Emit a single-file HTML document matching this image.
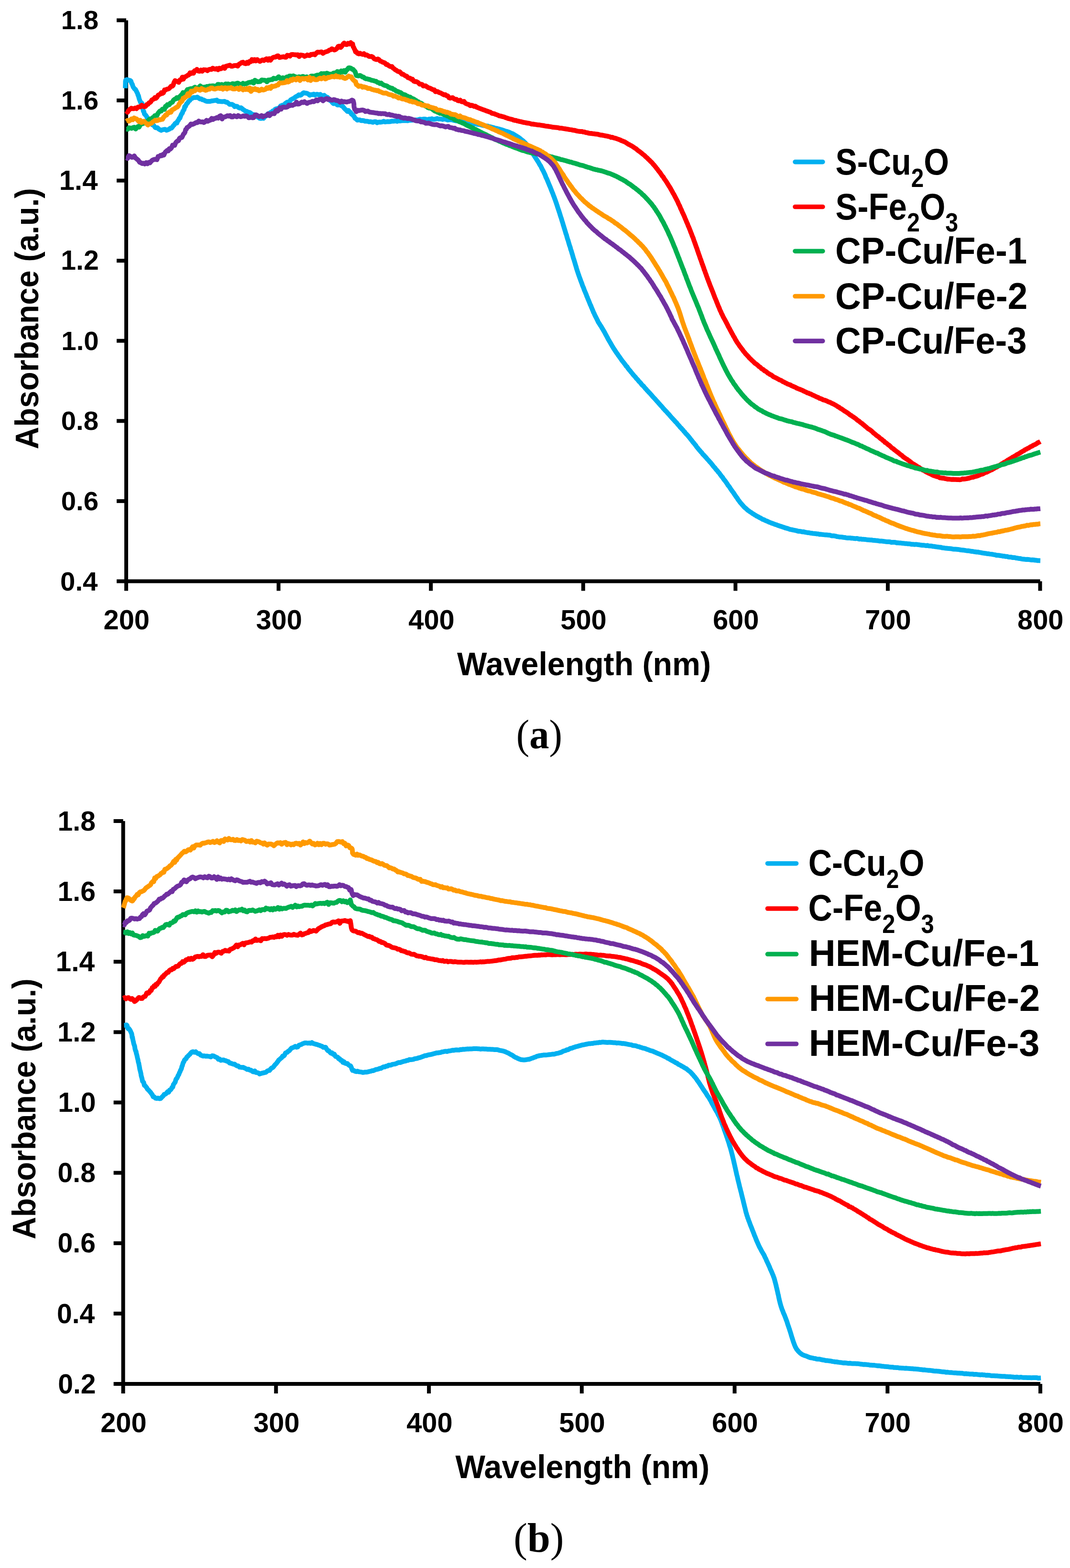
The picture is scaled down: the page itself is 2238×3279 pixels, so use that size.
<!DOCTYPE html>
<html><head><meta charset="utf-8"><title>Absorbance spectra</title>
<style>html,body{margin:0;padding:0;background:#fff;}svg{display:block;}</style></head>
<body>
<svg width="2238" height="3279" viewBox="0 0 2238 3279">
<rect width="100%" height="100%" fill="#fff"/>
<g fill="none" stroke="#000" stroke-width="8.0" stroke-linejoin="miter" stroke-linecap="butt">
<path d="M264.0 42.4 V1215.5 H2175.5" />
<path d="M244.0 42.4 H264.0" />
<path d="M244.0 210.0 H264.0" />
<path d="M244.0 377.6 H264.0" />
<path d="M244.0 545.2 H264.0" />
<path d="M244.0 712.7 H264.0" />
<path d="M244.0 880.3 H264.0" />
<path d="M244.0 1047.9 H264.0" />
<path d="M244.0 1215.5 H264.0" />
<path d="M264.0 1215.5 V1235.5" />
<path d="M582.6 1215.5 V1235.5" />
<path d="M901.2 1215.5 V1235.5" />
<path d="M1219.8 1215.5 V1235.5" />
<path d="M1538.3 1215.5 V1235.5" />
<path d="M1856.9 1215.5 V1235.5" />
<path d="M2175.5 1215.5 V1235.5" />
<path d="M257.6 1717.0 V2894.0 H2176.0" />
<path d="M237.6 1717.0 H257.6" />
<path d="M237.6 1864.1 H257.6" />
<path d="M237.6 2011.2 H257.6" />
<path d="M237.6 2158.4 H257.6" />
<path d="M237.6 2305.5 H257.6" />
<path d="M237.6 2452.6 H257.6" />
<path d="M237.6 2599.8 H257.6" />
<path d="M237.6 2746.9 H257.6" />
<path d="M237.6 2894.0 H257.6" />
<path d="M257.6 2894.0 V2914.0" />
<path d="M577.3 2894.0 V2914.0" />
<path d="M897.1 2894.0 V2914.0" />
<path d="M1216.8 2894.0 V2914.0" />
<path d="M1536.5 2894.0 V2914.0" />
<path d="M1856.3 2894.0 V2914.0" />
<path d="M2176.0 2894.0 V2914.0" />
</g>
<g fill="none" stroke-width="10.0" stroke-linejoin="round" stroke-linecap="butt">
<path d="M262.0 184.5L262.1 182.3L262.2 177.5L262.3 176.4L262.4 172.4L262.4 170.6L263.0 167.6L264.9 166.5L267.6 166.9L270.2 168.0L272.3 168.2L274.0 169.9L275.4 174.6L276.6 176.0L277.7 179.5L278.9 182.5L280.3 184.3L281.7 186.1L283.3 187.1L284.9 189.9L286.4 193.1L287.7 195.4L288.7 199.4L289.5 199.7L290.3 203.3L290.9 205.7L291.7 208.2L292.6 210.5L294.2 214.6L296.2 215.3L297.4 216.7L298.0 222.0L298.4 222.7L298.8 226.1L299.3 229.3L299.9 232.6L300.9 233.4L302.1 238.2L303.5 239.9L304.9 241.0L306.5 243.3L308.0 246.8L309.7 247.2L311.4 250.4L313.1 253.3L314.9 255.9L316.7 257.6L318.6 261.0L320.6 261.3L322.7 264.0L324.8 266.8L327.1 267.2L329.4 267.1L331.9 269.7L334.4 271.2L337.2 272.6L339.9 271.3L342.7 270.8L345.5 270.5L348.3 272.5L351.1 271.3L353.8 270.3L356.3 268.0L358.6 268.0L360.7 265.5L362.6 262.9L364.5 261.1L366.3 258.3L368.2 256.8L370.0 257.2L371.7 252.9L373.3 251.2L374.9 247.4L376.4 247.1L377.7 243.0L379.0 240.2L380.2 237.7L381.4 236.5L382.6 232.5L383.8 230.9L385.1 229.0L386.4 223.1L387.8 223.0L389.1 219.7L390.5 217.0L391.9 215.9L393.5 213.6L395.2 211.0L397.1 209.9L399.3 206.4L401.7 205.9L404.4 204.1L407.1 204.0L409.9 203.9L412.7 203.0L415.5 205.0L418.2 206.8L420.8 206.7L423.2 208.6L425.7 208.9L428.3 210.2L431.0 211.6L433.8 212.1L436.6 211.9L439.4 212.0L442.2 211.2L445.0 210.8L447.8 210.3L450.6 210.1L453.4 209.3L456.2 212.1L459.0 211.8L461.8 212.3L464.6 212.4L467.3 212.2L469.9 212.1L472.5 213.7L475.1 213.8L477.7 216.0L480.3 218.2L482.9 218.2L485.5 218.3L488.2 219.8L490.8 223.0L493.4 222.1L496.1 222.5L498.7 224.8L501.3 226.0L503.9 225.2L506.4 227.2L508.9 229.3L511.4 230.8L513.9 233.1L516.4 232.9L518.9 234.8L521.4 234.9L523.9 236.4L526.4 238.2L528.9 240.2L531.4 239.7L533.9 240.5L536.4 240.4L538.8 244.9L541.0 245.6L543.4 247.6L546.2 247.7L548.8 246.1L551.3 247.6L553.7 244.0L556.1 242.8L558.5 239.8L560.8 237.7L563.2 238.5L565.6 235.4L567.9 236.6L570.3 232.1L572.7 234.2L575.1 228.7L577.5 227.6L579.8 227.0L582.2 226.6L584.6 225.0L587.0 221.5L589.3 220.7L591.7 219.7L594.1 219.5L596.5 216.5L598.9 214.8L601.3 213.4L603.6 213.8L605.8 212.6L608.0 208.8L610.2 207.6L612.4 206.4L614.7 205.3L617.2 203.3L619.8 201.7L622.4 200.6L625.1 198.2L627.7 199.3L630.2 198.2L632.6 195.7L635.0 194.0L637.7 194.5L640.3 194.8L642.7 195.4L645.0 196.6L647.7 199.1L650.5 197.8L653.2 198.1L656.0 196.7L658.7 198.9L661.6 197.2L664.3 197.3L667.1 198.6L669.9 197.3L672.6 200.1L675.4 200.1L678.1 199.3L680.7 201.8L683.0 203.3L685.0 203.5L686.9 206.0L688.8 207.4L690.8 210.6L692.9 211.2L695.1 214.5L697.4 216.7L699.9 216.2L702.5 216.5L705.3 219.4L708.0 219.6L710.8 218.6L713.4 220.8L715.8 221.8L717.9 223.6L719.9 226.2L722.0 228.5L724.2 230.2L726.6 233.1L729.0 231.1L731.3 234.1L733.4 235.0L735.2 238.9L737.0 239.1L738.7 241.5L740.6 243.3L742.5 247.2L744.9 248.7L747.2 251.2L749.7 250.8L752.5 250.7L755.2 252.3L758.0 252.1L760.8 252.2L763.5 253.6L766.3 253.5L769.1 253.8L771.9 254.7L774.6 254.4L777.4 255.1L780.2 255.8L783.0 254.4L785.8 254.4L788.6 256.7L791.4 255.4L794.2 255.3L797.0 255.4L799.8 254.8L802.6 253.6L805.4 255.0L808.2 254.6L811.0 254.2L813.8 254.4L816.6 254.2L819.4 253.2L822.2 253.5L825.0 253.3L827.8 252.9L830.6 253.8L833.4 252.3L836.2 253.0L839.0 252.6L841.8 252.3L844.6 252.1L847.4 252.3L850.2 252.3L853.0 252.4L855.8 251.1L858.6 251.6L861.4 251.2L864.2 251.3L867.0 251.0L869.8 250.8L872.6 250.8L875.4 250.2L878.2 249.2L881.0 249.8L883.8 249.4L886.6 249.0L889.4 249.1L892.2 249.6L895.0 249.9L897.8 248.9L900.6 249.0L903.4 248.2L906.2 249.6L909.0 249.4L911.8 248.6L914.6 247.8L917.4 249.0L920.2 248.6L923.0 249.0L925.8 249.8L928.6 248.8L931.4 249.3L934.2 250.0L936.9 251.1L939.7 250.2L942.5 250.4L945.3 250.5L948.1 251.5L950.9 252.2L953.7 252.7L956.4 252.6L959.2 252.7L962.0 253.5L964.8 253.4L967.5 254.0L970.3 254.3L973.1 255.3L975.8 255.3L978.6 256.1L981.3 256.5L984.1 257.0L986.9 257.6L989.6 258.0L992.4 258.9L995.1 258.8L997.9 260.0L1000.6 260.2L1003.4 260.5L1006.1 261.2L1008.9 262.0L1011.6 262.5L1014.4 262.8L1017.1 263.5L1019.9 263.6L1022.6 264.5L1025.3 265.2L1028.1 265.9L1030.8 266.4L1033.5 267.3L1036.2 268.2L1038.9 268.5L1041.6 269.4L1044.3 270.0L1047.0 271.0L1049.7 271.5L1052.4 272.4L1055.1 273.5L1057.8 274.5L1060.4 274.9L1063.1 275.9L1065.7 276.8L1068.3 278.2L1070.8 279.1L1073.3 280.2L1075.8 281.7L1078.2 283.3L1080.6 284.8L1083.0 286.3L1085.3 287.8L1087.5 289.3L1089.8 291.4L1091.9 292.8L1094.1 294.6L1096.1 296.6L1098.1 298.3L1100.1 300.6L1101.9 302.7L1103.7 304.7L1105.4 307.4L1107.0 309.8L1108.6 311.7L1110.1 314.3L1111.6 316.7L1113.1 319.1L1114.6 321.1L1116.0 323.7L1117.5 325.9L1119.0 328.3L1120.6 330.7L1122.1 333.0L1123.6 335.4L1125.1 337.6L1126.6 340.0L1128.0 342.6L1129.5 345.3L1130.9 347.0L1132.2 349.8L1133.5 352.6L1134.8 355.1L1136.0 357.1L1137.2 359.6L1138.4 362.3L1139.6 364.7L1140.7 367.3L1141.8 370.6L1142.9 372.6L1144.1 375.2L1145.2 377.9L1146.3 380.5L1147.3 383.0L1148.4 385.6L1149.5 388.2L1150.6 390.7L1151.7 393.5L1152.7 396.1L1153.8 398.8L1154.8 401.4L1155.8 403.7L1156.9 406.5L1157.8 409.3L1158.8 411.4L1159.8 414.5L1160.7 416.7L1161.7 419.4L1162.6 422.2L1163.5 424.6L1164.4 427.4L1165.3 430.0L1166.2 432.9L1167.1 435.7L1168.0 438.3L1168.8 440.5L1169.7 443.6L1170.6 446.0L1171.4 448.9L1172.3 451.7L1173.1 454.1L1174.0 456.6L1174.8 459.4L1175.6 462.2L1176.5 464.8L1177.3 467.4L1178.1 470.6L1178.9 472.7L1179.7 475.6L1180.6 478.3L1181.4 481.0L1182.2 483.7L1183.0 486.3L1183.8 489.2L1184.7 491.1L1185.5 494.3L1186.3 497.1L1187.1 500.0L1188.0 502.1L1188.8 505.0L1189.6 507.8L1190.4 510.5L1191.2 513.3L1192.1 515.6L1192.9 518.1L1193.7 521.7L1194.5 523.5L1195.4 526.3L1196.2 529.3L1197.0 531.7L1197.8 534.4L1198.6 537.3L1199.4 540.2L1200.3 542.6L1201.1 545.2L1201.9 547.9L1202.7 550.4L1203.5 553.5L1204.3 555.8L1205.1 558.5L1205.9 561.6L1206.8 564.2L1207.6 567.0L1208.5 569.3L1209.4 572.3L1210.3 574.6L1211.2 577.4L1212.1 579.9L1213.1 582.6L1214.0 585.0L1215.0 587.8L1216.0 590.4L1217.0 592.9L1218.0 595.9L1219.0 598.6L1220.1 600.9L1221.1 603.6L1222.1 606.5L1223.2 609.0L1224.2 611.4L1225.3 614.0L1226.3 616.3L1227.3 619.4L1228.4 621.6L1229.4 624.4L1230.5 626.9L1231.6 629.6L1232.6 631.9L1233.7 634.8L1234.8 637.5L1235.9 639.5L1236.9 642.4L1238.1 645.0L1239.2 647.8L1240.3 650.3L1241.4 653.3L1242.6 655.2L1243.8 658.3L1245.0 660.6L1246.2 663.0L1247.4 665.3L1248.7 667.9L1250.0 670.4L1251.3 673.4L1252.7 675.5L1254.2 677.9L1255.6 680.2L1257.1 682.2L1258.6 685.0L1260.1 687.4L1261.5 689.8L1262.9 692.2L1264.3 694.4L1265.6 697.0L1267.0 699.7L1268.3 702.0L1269.6 704.5L1270.9 706.8L1272.2 709.6L1273.6 711.8L1275.0 714.2L1276.4 716.5L1277.8 719.0L1279.2 721.4L1280.6 724.0L1282.1 726.3L1283.6 728.9L1285.1 731.0L1286.7 733.5L1288.2 735.8L1289.8 738.2L1291.4 740.2L1293.0 742.7L1294.6 744.9L1296.3 747.2L1297.9 749.6L1299.6 751.9L1301.3 754.5L1302.9 756.3L1304.6 758.4L1306.3 760.7L1308.0 762.8L1309.7 765.6L1311.5 766.9L1313.2 769.8L1314.9 772.1L1316.7 774.2L1318.5 776.2L1320.2 778.5L1322.0 780.5L1323.8 782.8L1325.6 785.0L1327.4 787.0L1329.2 788.8L1331.0 791.4L1332.9 793.2L1334.7 795.2L1336.6 797.8L1338.5 799.3L1340.3 801.5L1342.2 804.2L1344.1 805.9L1346.0 807.6L1347.9 810.0L1349.8 812.3L1351.6 814.0L1353.5 816.5L1355.4 818.2L1357.3 820.5L1359.2 822.2L1361.1 824.4L1362.9 826.5L1364.8 828.8L1366.7 830.9L1368.6 832.9L1370.4 834.8L1372.3 837.0L1374.2 839.1L1376.1 841.2L1377.9 843.4L1379.8 845.3L1381.7 847.7L1383.6 849.5L1385.4 851.5L1387.3 854.1L1389.2 855.9L1391.1 858.2L1392.9 859.9L1394.8 861.8L1396.7 864.2L1398.6 865.9L1400.5 868.2L1402.3 870.4L1404.2 872.6L1406.1 874.6L1408.0 876.7L1409.8 878.5L1411.7 880.8L1413.6 882.8L1415.5 884.5L1417.3 887.1L1419.2 889.1L1421.1 891.2L1423.0 893.7L1424.8 895.1L1426.7 897.6L1428.6 899.4L1430.4 901.9L1432.3 903.6L1434.1 906.4L1435.9 907.9L1437.8 910.1L1439.6 912.1L1441.4 914.2L1443.1 916.4L1444.9 918.9L1446.7 920.9L1448.4 923.2L1450.1 925.4L1451.9 927.2L1453.6 929.7L1455.4 931.7L1457.1 934.5L1458.9 936.5L1460.6 938.6L1462.4 940.8L1464.2 942.7L1466.0 945.1L1467.9 946.8L1469.7 949.5L1471.6 951.3L1473.4 953.2L1475.3 955.3L1477.2 957.3L1479.0 959.6L1480.9 961.6L1482.8 963.6L1484.6 965.9L1486.5 967.8L1488.3 969.9L1490.1 972.3L1491.9 974.7L1493.7 976.8L1495.5 978.6L1497.3 981.3L1499.1 983.1L1500.9 985.1L1502.6 987.6L1504.4 989.2L1506.1 991.9L1507.8 993.9L1509.5 996.5L1511.3 998.2L1512.9 1000.9L1514.6 1003.3L1516.3 1005.2L1518.0 1007.5L1519.6 1009.8L1521.2 1012.1L1522.8 1015.0L1524.5 1016.7L1526.1 1019.0L1527.6 1021.4L1529.2 1023.8L1530.8 1026.1L1532.4 1028.2L1534.0 1030.3L1535.6 1032.8L1537.2 1035.2L1538.8 1037.5L1540.3 1039.8L1541.9 1041.6L1543.5 1044.5L1545.2 1046.7L1546.8 1048.8L1548.5 1051.2L1550.3 1053.0L1552.1 1055.3L1554.0 1057.2L1555.9 1059.7L1557.9 1061.6L1560.0 1063.2L1562.1 1065.2L1564.3 1067.1L1566.6 1068.7L1568.8 1070.4L1571.1 1071.6L1573.4 1073.5L1575.8 1074.8L1578.2 1076.6L1580.6 1077.7L1583.0 1079.5L1585.4 1080.4L1587.9 1082.1L1590.4 1083.2L1592.9 1084.6L1595.4 1086.2L1598.0 1086.9L1600.5 1088.3L1603.1 1089.3L1605.6 1090.4L1608.2 1091.7L1610.8 1092.6L1613.4 1093.9L1616.0 1094.6L1618.6 1095.6L1621.3 1096.8L1623.9 1097.3L1626.5 1098.6L1629.2 1099.3L1631.8 1100.4L1634.5 1101.0L1637.2 1102.2L1639.8 1102.9L1642.5 1104.0L1645.2 1104.6L1647.9 1105.4L1650.6 1106.4L1653.3 1107.3L1656.0 1107.6L1658.7 1108.4L1661.5 1108.8L1664.2 1109.3L1666.9 1110.1L1669.7 1110.9L1672.5 1111.0L1675.2 1111.4L1678.0 1112.2L1680.8 1112.1L1683.5 1112.9L1686.3 1113.4L1689.1 1113.9L1691.9 1114.1L1694.6 1114.7L1697.4 1114.9L1700.2 1115.6L1703.0 1115.7L1705.7 1115.9L1708.5 1116.5L1711.3 1116.5L1714.1 1117.4L1716.9 1117.3L1719.7 1117.8L1722.5 1118.1L1725.2 1118.4L1728.0 1118.5L1730.8 1118.7L1733.6 1119.1L1736.4 1119.3L1739.1 1120.4L1741.9 1120.4L1744.7 1120.6L1747.5 1121.1L1750.2 1122.0L1753.0 1122.4L1755.8 1122.9L1758.6 1123.1L1761.3 1123.3L1764.1 1123.7L1766.9 1124.0L1769.7 1124.6L1772.5 1125.0L1775.3 1124.9L1778.0 1124.9L1780.8 1125.6L1783.6 1125.6L1786.4 1126.0L1789.2 1126.4L1792.0 1125.9L1794.8 1126.6L1797.6 1127.4L1800.4 1127.1L1803.2 1127.8L1806.0 1127.7L1808.7 1128.1L1811.5 1128.3L1814.3 1128.8L1817.1 1128.9L1819.9 1129.3L1822.7 1129.3L1825.5 1129.7L1828.3 1130.0L1831.1 1130.3L1833.8 1130.6L1836.6 1130.8L1839.4 1131.4L1842.2 1131.6L1845.0 1131.6L1847.8 1132.0L1850.6 1132.4L1853.4 1132.8L1856.2 1133.0L1859.0 1133.1L1861.7 1133.3L1864.5 1134.2L1867.3 1134.0L1870.1 1134.0L1872.9 1134.2L1875.7 1135.2L1878.5 1135.1L1881.3 1135.6L1884.1 1135.6L1886.9 1136.0L1889.6 1136.2L1892.4 1136.7L1895.2 1136.7L1898.0 1137.2L1900.8 1137.3L1903.6 1137.4L1906.4 1138.3L1909.2 1138.2L1912.0 1138.7L1914.7 1138.5L1917.5 1138.6L1920.3 1139.0L1923.1 1139.3L1925.9 1139.8L1928.7 1140.2L1931.5 1140.2L1934.3 1140.7L1937.1 1141.2L1939.9 1140.6L1942.6 1141.6L1945.4 1141.7L1948.2 1141.8L1951.0 1142.6L1953.8 1142.7L1956.6 1143.3L1959.3 1143.6L1962.1 1144.0L1964.9 1144.4L1967.7 1144.5L1970.4 1145.5L1973.2 1145.7L1976.0 1146.2L1978.8 1146.5L1981.5 1146.8L1984.3 1147.1L1987.1 1147.3L1989.9 1147.5L1992.7 1148.2L1995.5 1148.4L1998.2 1148.6L2001.0 1148.8L2003.8 1149.0L2006.6 1149.4L2009.4 1150.0L2012.2 1150.2L2015.0 1150.4L2017.8 1150.9L2020.5 1151.4L2023.3 1151.7L2026.1 1151.8L2028.9 1152.3L2031.6 1152.9L2034.4 1153.1L2037.2 1153.7L2039.9 1154.0L2042.7 1154.5L2045.5 1154.5L2048.3 1155.1L2051.0 1155.5L2053.8 1156.2L2056.6 1156.6L2059.4 1157.0L2062.1 1157.3L2064.9 1158.0L2067.7 1158.1L2070.4 1158.6L2073.2 1158.9L2076.0 1159.3L2078.8 1159.9L2081.5 1160.2L2084.3 1161.2L2087.1 1161.2L2089.8 1161.5L2092.6 1162.0L2095.4 1162.4L2098.2 1163.0L2100.9 1163.1L2103.7 1163.8L2106.5 1163.7L2109.3 1164.8L2112.0 1165.1L2114.8 1165.1L2117.6 1165.9L2120.3 1165.9L2123.1 1166.3L2125.9 1167.1L2128.6 1167.3L2131.4 1168.0L2134.2 1168.1L2137.0 1168.8L2139.8 1169.3L2142.5 1169.5L2145.3 1169.9L2148.1 1169.8L2150.9 1170.0L2153.7 1170.4L2156.5 1170.9L2159.3 1170.7L2162.1 1171.0L2164.9 1171.6L2167.7 1171.7L2170.5 1172.3L2173.2 1172.3L2176.0 1172.4" stroke="#00B0F0"/>
<path d="M264.2 231.8L266.7 234.7L269.3 230.8L271.9 228.4L274.5 226.3L277.2 227.3L279.9 227.3L282.7 225.9L285.5 227.3L288.2 224.1L291.0 223.5L293.7 223.6L296.4 219.9L299.1 222.1L301.8 223.3L304.4 222.5L307.0 218.7L309.5 218.1L311.8 214.8L313.7 214.4L315.6 212.6L317.5 209.2L319.5 208.1L321.7 207.2L323.9 204.0L326.2 205.6L328.4 203.3L330.7 199.1L333.0 198.0L335.2 196.9L337.4 193.8L339.6 195.4L341.9 194.0L344.2 188.0L346.5 188.2L348.9 186.5L351.4 186.3L353.8 185.1L356.1 182.4L358.3 180.0L360.2 180.4L362.1 178.6L363.9 172.7L366.1 168.6L368.5 169.7L371.1 170.6L373.8 172.3L376.5 166.9L379.1 166.7L381.4 161.3L383.5 165.5L385.5 161.3L387.6 160.6L390.0 159.3L392.5 157.5L395.0 156.5L397.6 152.2L400.1 153.7L402.5 151.6L404.7 153.3L406.8 148.0L409.2 147.7L411.9 145.0L414.7 148.6L417.5 149.1L420.2 146.5L423.0 149.0L425.8 145.8L428.6 146.1L431.3 146.3L434.0 147.9L436.7 145.4L439.4 144.9L442.1 145.3L444.8 142.5L447.6 143.9L450.4 144.6L453.2 143.3L456.0 145.9L458.8 142.6L461.6 143.9L464.4 142.7L467.1 139.8L469.9 143.0L472.5 138.5L475.3 137.8L478.0 137.1L480.8 136.3L483.6 138.5L486.4 138.4L489.1 137.3L491.9 137.1L494.6 136.8L497.3 138.2L500.0 134.2L502.8 132.8L505.5 130.6L508.3 130.1L511.0 132.5L513.8 133.3L516.5 130.3L519.2 132.6L521.8 128.5L524.4 129.0L527.0 124.4L529.6 127.6L532.4 124.6L535.2 127.5L538.0 124.5L540.8 126.9L543.6 128.4L546.4 126.7L549.2 125.2L552.0 126.7L554.8 124.4L557.5 122.8L560.3 126.1L563.0 122.6L565.8 125.9L568.4 122.1L571.0 120.3L573.5 119.4L576.1 119.5L578.9 117.4L581.7 116.7L584.4 120.3L587.2 119.7L590.0 119.1L592.8 118.6L595.5 119.5L598.2 119.7L600.9 115.6L603.6 115.9L606.4 117.4L609.1 114.3L611.9 113.9L614.7 114.2L617.5 114.4L620.3 115.0L623.1 114.5L625.8 118.2L628.6 115.0L631.4 115.4L634.2 115.9L637.0 117.9L639.8 116.7L642.6 114.8L645.2 116.1L647.8 116.2L650.5 113.8L653.2 113.9L655.9 113.1L658.7 114.6L661.5 111.2L664.3 108.9L667.1 109.4L669.9 109.0L672.7 108.4L675.4 111.6L678.2 109.7L680.9 108.5L683.7 107.7L686.4 106.8L689.0 104.6L691.6 104.1L694.2 102.0L696.8 103.4L699.5 104.5L702.1 103.6L704.7 101.3L707.4 96.9L710.0 96.5L712.5 99.3L714.9 96.8L717.4 92.4L719.8 89.9L722.5 92.9L725.2 93.3L727.9 90.7L730.7 92.1L733.5 89.0L736.0 92.2L737.6 92.1L738.7 97.8L739.7 98.7L740.7 101.3L742.1 103.9L743.7 108.5L745.3 107.8L747.6 111.5L750.3 112.7L753.0 111.3L755.7 112.8L758.5 113.7L761.2 112.2L763.9 115.3L766.6 114.7L769.3 116.2L772.0 118.0L774.7 118.2L777.3 118.0L780.0 119.6L782.6 122.8L785.2 123.9L787.7 124.6L790.3 123.4L792.8 124.9L795.3 127.8L797.8 128.5L800.2 129.9L802.7 130.7L805.2 131.6L807.6 134.9L810.1 134.8L812.5 136.8L814.9 138.5L817.3 139.4L819.7 139.1L822.1 142.3L824.5 143.9L826.8 146.0L829.1 146.9L831.4 148.9L833.7 149.7L836.0 150.0L838.4 152.5L840.8 155.3L843.2 155.2L845.6 157.1L848.0 158.7L850.5 159.1L852.9 162.2L855.4 163.2L857.8 163.5L860.3 166.0L862.7 165.6L865.2 169.7L867.7 170.7L870.2 170.4L872.7 171.5L875.2 173.1L877.7 176.1L880.2 176.1L882.7 176.4L885.2 179.8L887.7 179.4L890.3 179.6L892.8 181.4L895.4 183.2L897.9 184.0L900.5 184.8L903.1 186.3L905.6 187.7L908.2 187.7L910.8 191.8L913.4 191.3L915.9 191.7L918.5 193.6L921.1 194.2L923.6 195.4L926.2 197.0L928.8 198.4L931.3 197.9L933.9 200.1L936.5 200.5L939.1 204.4L941.7 205.3L944.3 204.4L946.9 204.3L949.5 206.5L952.1 207.9L954.8 207.6L957.4 210.3L960.0 210.9L962.6 209.4L965.3 212.6L967.9 213.0L970.5 212.0L973.2 215.8L975.8 217.1L978.4 218.0L981.0 218.8L983.7 221.0L986.3 220.1L988.9 220.8L991.6 222.6L994.2 221.9L996.8 224.0L999.4 225.0L1002.1 226.2L1004.7 227.1L1007.3 228.2L1009.9 229.2L1012.6 230.1L1015.2 231.0L1017.8 232.1L1020.4 232.8L1023.1 234.0L1025.7 234.6L1028.3 236.6L1030.9 237.4L1033.6 237.7L1036.2 239.0L1038.8 239.9L1041.5 240.9L1044.1 242.2L1046.8 242.6L1049.4 243.4L1052.1 244.2L1054.8 244.7L1057.5 246.0L1060.1 246.8L1062.8 247.8L1065.5 248.5L1068.2 249.2L1070.9 249.6L1073.6 250.9L1076.4 251.7L1079.1 251.8L1081.8 252.9L1084.5 253.4L1087.2 254.1L1090.0 254.5L1092.7 255.4L1095.5 256.0L1098.2 256.4L1101.0 257.0L1103.7 257.6L1106.5 257.7L1109.2 258.5L1112.0 259.4L1114.8 259.5L1117.5 260.0L1120.3 260.4L1123.1 260.8L1125.9 261.3L1128.6 261.3L1131.4 261.8L1134.2 262.3L1137.0 262.7L1139.7 263.4L1142.5 263.8L1145.3 264.0L1148.1 264.5L1150.8 264.9L1153.6 265.4L1156.4 266.1L1159.2 266.3L1161.9 266.5L1164.7 266.8L1167.5 267.1L1170.3 268.0L1173.0 268.1L1175.8 268.3L1178.6 268.9L1181.4 269.3L1184.1 269.7L1186.9 270.1L1189.7 270.7L1192.4 271.1L1195.2 271.4L1198.0 272.2L1200.7 272.4L1203.5 273.0L1206.3 273.9L1209.0 274.4L1211.8 274.7L1214.5 275.1L1217.3 275.0L1220.1 276.1L1222.8 276.1L1225.6 277.3L1228.3 277.4L1231.1 278.5L1233.9 278.9L1236.6 279.0L1239.4 279.5L1242.2 279.7L1244.9 280.3L1247.7 280.5L1250.5 280.7L1253.2 281.7L1256.0 282.4L1258.7 282.5L1261.5 283.1L1264.3 283.7L1267.0 284.3L1269.8 284.6L1272.5 285.4L1275.3 285.9L1278.0 287.4L1280.7 286.9L1283.4 288.3L1286.1 288.8L1288.8 289.6L1291.4 290.6L1294.0 291.5L1296.7 292.4L1299.2 293.9L1301.8 294.7L1304.4 295.9L1306.9 296.8L1309.4 298.4L1311.9 300.0L1314.3 301.6L1316.8 302.7L1319.2 304.1L1321.6 305.3L1324.0 307.0L1326.3 308.5L1328.6 310.1L1330.9 311.4L1333.2 313.8L1335.4 315.4L1337.6 316.7L1339.8 318.6L1342.0 320.3L1344.2 322.2L1346.3 323.7L1348.4 325.5L1350.5 327.7L1352.6 329.5L1354.6 331.3L1356.7 333.6L1358.7 335.2L1360.6 337.4L1362.6 339.1L1364.5 341.2L1366.4 343.6L1368.2 345.4L1370.0 347.7L1371.8 349.8L1373.6 352.3L1375.3 354.2L1377.0 356.7L1378.7 358.9L1380.4 360.7L1382.0 363.3L1383.7 365.8L1385.3 368.2L1386.9 369.7L1388.5 372.3L1390.1 375.0L1391.7 377.0L1393.2 379.2L1394.7 381.5L1396.3 384.2L1397.7 386.4L1399.2 389.1L1400.7 391.1L1402.1 393.4L1403.5 396.1L1404.9 398.5L1406.3 401.0L1407.7 403.8L1409.1 405.8L1410.4 408.3L1411.7 410.9L1413.0 413.3L1414.3 415.8L1415.5 418.2L1416.8 420.6L1418.0 423.1L1419.2 426.2L1420.4 428.5L1421.6 430.7L1422.7 433.6L1423.9 436.6L1425.0 438.4L1426.2 441.3L1427.3 444.2L1428.4 446.2L1429.6 448.8L1430.7 451.1L1431.8 453.7L1432.9 456.6L1434.0 459.0L1435.1 461.6L1436.2 464.5L1437.3 466.7L1438.4 469.3L1439.5 472.4L1440.6 474.6L1441.7 477.2L1442.7 479.9L1443.8 482.5L1444.8 485.6L1445.8 487.8L1446.8 490.4L1447.8 493.3L1448.8 495.6L1449.8 497.7L1450.8 501.0L1451.7 503.7L1452.7 506.1L1453.6 508.8L1454.5 511.3L1455.5 514.2L1456.4 516.8L1457.3 518.9L1458.3 521.9L1459.2 524.9L1460.1 527.0L1461.1 530.4L1462.0 532.6L1462.9 535.1L1463.9 538.1L1464.8 541.0L1465.7 542.8L1466.7 545.9L1467.6 548.3L1468.5 551.5L1469.5 553.5L1470.4 556.5L1471.4 558.8L1472.3 561.8L1473.2 564.6L1474.2 566.5L1475.1 569.8L1476.1 572.2L1477.1 574.8L1478.0 577.8L1479.0 580.0L1480.0 583.3L1481.0 585.3L1481.9 588.1L1482.9 590.5L1483.9 593.1L1484.9 596.0L1485.9 598.4L1486.9 600.9L1488.0 603.7L1489.0 606.2L1490.0 608.8L1491.0 611.1L1492.0 613.8L1493.1 616.7L1494.1 619.2L1495.1 621.9L1496.2 624.4L1497.2 626.8L1498.3 629.4L1499.3 632.4L1500.4 634.7L1501.4 637.4L1502.5 640.2L1503.6 642.4L1504.7 645.2L1505.8 648.3L1506.9 650.4L1508.1 652.7L1509.3 655.9L1510.5 657.8L1511.7 660.6L1513.0 663.3L1514.3 665.6L1515.6 667.9L1516.9 670.2L1518.3 672.9L1519.6 675.4L1520.9 677.8L1522.2 680.5L1523.5 683.3L1524.8 685.5L1526.1 687.8L1527.4 690.4L1528.7 692.7L1530.1 695.4L1531.4 697.9L1532.7 699.9L1534.1 703.0L1535.5 704.8L1536.9 707.4L1538.3 710.2L1539.8 712.5L1541.3 715.2L1542.8 717.4L1544.4 719.6L1546.0 722.0L1547.6 724.4L1549.2 726.4L1550.8 728.7L1552.5 730.6L1554.2 733.2L1556.0 735.6L1557.7 737.4L1559.5 740.0L1561.3 741.6L1563.2 743.8L1565.1 745.5L1567.0 748.2L1569.0 749.9L1571.0 751.8L1573.1 754.0L1575.2 755.8L1577.3 757.9L1579.4 760.0L1581.5 761.1L1583.7 762.9L1585.8 764.7L1588.0 766.9L1590.2 768.0L1592.4 770.5L1594.6 772.0L1596.9 773.1L1599.1 775.5L1601.4 776.4L1603.7 778.1L1606.0 780.2L1608.3 781.4L1610.7 783.2L1613.1 784.0L1615.5 786.1L1617.9 787.9L1620.3 789.0L1622.8 790.1L1625.2 791.4L1627.7 792.8L1630.2 794.4L1632.7 795.0L1635.2 796.4L1637.7 798.3L1640.2 799.1L1642.7 800.7L1645.2 801.7L1647.8 803.3L1650.3 804.1L1652.9 804.8L1655.4 806.5L1658.0 807.6L1660.5 808.7L1663.1 809.6L1665.7 811.3L1668.2 812.4L1670.8 813.4L1673.4 814.3L1675.9 815.4L1678.5 816.4L1681.1 817.9L1683.6 819.0L1686.2 820.1L1688.8 821.6L1691.3 822.2L1693.9 823.7L1696.4 824.2L1699.0 825.8L1701.5 826.8L1704.1 828.0L1706.6 829.2L1709.2 830.5L1711.7 831.3L1714.3 833.1L1716.9 833.7L1719.5 834.9L1722.1 836.4L1724.8 836.9L1727.4 837.7L1730.0 838.9L1732.6 840.3L1735.2 841.1L1737.7 842.2L1740.3 843.8L1742.7 844.6L1745.2 846.0L1747.6 847.4L1750.0 848.6L1752.4 850.5L1754.8 851.6L1757.1 853.6L1759.5 854.8L1761.9 856.3L1764.2 858.0L1766.5 859.6L1768.9 860.9L1771.2 862.6L1773.5 864.0L1775.8 865.7L1778.1 867.8L1780.4 868.8L1782.7 870.7L1785.0 872.1L1787.3 873.7L1789.5 875.1L1791.8 877.2L1794.0 879.1L1796.3 880.4L1798.5 882.3L1800.7 884.1L1802.9 885.5L1805.1 887.5L1807.3 889.2L1809.5 891.2L1811.7 892.9L1813.9 895.0L1816.1 896.8L1818.2 898.1L1820.4 899.4L1822.6 901.2L1824.8 903.0L1827.0 905.5L1829.1 906.8L1831.3 908.7L1833.5 910.7L1835.7 912.1L1837.9 913.6L1840.1 915.8L1842.3 917.6L1844.5 918.9L1846.7 921.2L1848.9 922.4L1851.0 925.0L1853.2 926.2L1855.4 927.9L1857.6 930.0L1859.8 931.2L1862.0 933.2L1864.1 935.5L1866.3 937.3L1868.5 938.4L1870.7 940.6L1872.9 942.1L1875.1 944.1L1877.2 945.4L1879.4 947.3L1881.6 948.9L1883.9 950.9L1886.1 952.3L1888.3 954.5L1890.5 956.2L1892.8 957.7L1895.0 959.4L1897.3 960.5L1899.6 962.4L1901.8 963.9L1904.1 965.7L1906.4 967.6L1908.7 969.4L1911.1 970.6L1913.4 972.3L1915.7 973.5L1918.1 975.2L1920.4 976.6L1922.8 977.8L1925.2 979.7L1927.6 981.2L1930.0 983.1L1932.4 983.8L1934.8 985.4L1937.3 987.0L1939.8 988.2L1942.2 989.5L1944.8 990.6L1947.3 991.8L1949.9 993.2L1952.4 994.3L1955.1 995.2L1957.7 996.1L1960.4 996.8L1963.1 997.5L1965.8 999.2L1968.5 999.4L1971.2 1000.0L1973.9 1000.1L1976.7 1000.9L1979.5 1001.4L1982.3 1002.0L1985.0 1002.1L1987.8 1002.4L1990.6 1002.7L1993.4 1002.6L1996.2 1002.8L1999.0 1002.7L2001.8 1003.0L2004.6 1003.1L2007.4 1003.2L2010.2 1002.9L2013.0 1001.5L2015.8 1001.9L2018.6 1001.5L2021.4 1001.1L2024.1 1000.5L2026.9 1000.0L2029.6 999.1L2032.3 998.2L2035.0 998.1L2037.7 996.9L2040.4 996.3L2043.1 995.7L2045.7 994.8L2048.4 993.6L2051.0 992.1L2053.6 991.7L2056.2 991.0L2058.8 989.2L2061.4 987.9L2063.9 987.6L2066.5 986.0L2069.0 984.8L2071.5 983.4L2074.0 982.6L2076.5 981.1L2079.0 979.7L2081.4 978.2L2083.9 977.1L2086.3 975.8L2088.7 973.9L2091.2 972.8L2093.6 971.0L2096.0 969.6L2098.3 968.2L2100.7 966.5L2103.1 965.5L2105.5 964.0L2107.9 962.0L2110.3 961.0L2112.7 959.4L2115.1 958.3L2117.5 956.4L2119.9 955.3L2122.3 953.9L2124.7 952.3L2127.1 950.7L2129.5 949.5L2131.9 948.4L2134.3 946.5L2136.7 945.3L2139.2 943.5L2141.6 942.4L2144.0 940.6L2146.5 939.4L2148.9 937.9L2151.4 937.0L2153.8 935.3L2156.3 933.8L2158.8 932.8L2161.2 931.1L2163.7 930.1L2166.2 929.0L2168.6 927.4L2171.1 925.6L2173.6 924.8L2176.0 923.4" stroke="#FF0000"/>
<path d="M264.2 269.6L267.0 270.3L269.7 267.3L272.5 267.6L275.3 268.5L278.1 266.9L280.9 266.1L283.7 269.8L286.3 266.6L288.7 264.5L290.9 265.9L293.1 261.7L295.5 258.7L297.9 258.9L300.2 258.0L302.6 256.2L305.0 256.1L307.4 253.7L309.8 254.0L312.2 249.9L314.6 248.8L317.0 248.1L319.3 246.0L321.6 245.2L323.8 241.8L326.1 241.3L328.3 241.5L330.5 236.9L332.8 234.1L335.0 231.9L337.3 232.3L339.6 228.2L341.8 228.0L344.0 228.7L346.1 222.3L348.1 222.9L350.0 218.8L351.9 219.3L354.0 219.3L356.1 215.7L358.4 214.9L360.6 213.5L362.9 209.4L365.2 207.6L367.4 206.9L369.7 204.1L371.9 205.7L374.2 204.2L376.4 201.6L378.7 199.1L380.8 197.3L382.9 193.4L385.0 194.9L387.2 194.2L389.5 191.2L391.9 187.2L394.4 186.9L396.9 186.0L399.5 185.2L402.1 186.0L404.9 184.0L407.7 182.3L410.5 184.4L413.3 184.7L416.1 182.6L418.8 179.7L421.6 181.7L424.4 183.1L427.2 182.1L430.0 182.6L432.8 180.7L435.6 181.0L438.4 179.8L441.2 179.9L444.0 179.5L446.8 179.5L449.6 180.2L452.4 181.2L455.2 176.6L458.0 176.4L460.8 178.0L463.6 176.6L466.3 179.2L469.1 177.5L471.9 175.4L474.7 176.1L477.5 175.5L480.3 176.7L483.1 176.6L485.9 175.0L488.7 175.2L491.5 176.3L494.3 174.6L497.1 173.8L499.9 175.1L502.7 176.7L505.5 176.5L508.3 174.2L511.0 175.8L513.8 175.0L516.6 174.5L519.4 172.8L522.2 172.2L524.9 172.3L527.7 170.6L530.4 173.8L533.2 167.8L536.0 169.6L538.8 170.9L541.6 170.7L544.4 170.5L547.2 167.2L550.0 167.5L552.8 167.7L555.6 168.4L558.3 171.1L561.1 167.3L563.9 167.4L566.6 166.4L569.4 166.5L572.1 163.6L574.9 164.5L577.6 164.6L580.3 162.7L583.0 160.4L585.8 164.0L588.6 164.3L591.4 162.6L594.2 163.4L597.0 163.4L599.8 161.0L602.6 160.8L605.3 159.1L608.1 158.9L610.9 161.1L613.7 158.6L616.5 160.1L619.4 161.0L622.2 162.1L625.0 160.5L627.8 161.1L630.6 160.7L633.4 159.7L636.2 160.9L639.0 162.7L641.8 160.6L644.6 163.2L647.4 161.9L650.2 159.3L652.9 159.0L655.7 159.6L658.4 158.9L661.2 157.9L663.9 157.1L666.7 157.3L669.4 156.1L672.2 153.8L675.0 154.9L677.8 153.8L680.6 154.4L683.4 153.0L686.2 154.0L689.0 155.2L691.8 155.0L694.6 154.9L697.3 153.0L700.1 152.5L702.8 153.6L705.5 149.6L708.2 150.4L710.9 152.3L713.7 148.2L716.5 150.5L719.3 147.6L722.1 151.1L724.6 146.4L726.8 145.4L728.9 142.0L731.2 141.8L734.0 142.5L736.5 145.0L738.6 145.1L740.7 147.6L742.7 149.9L743.9 153.4L744.7 156.1L745.4 158.1L747.1 158.4L749.8 158.7L752.6 157.7L755.3 158.8L757.8 160.8L760.3 161.2L762.8 163.5L765.4 164.8L768.1 164.8L770.7 165.8L773.4 166.2L776.2 167.6L778.8 168.2L781.5 168.7L784.1 169.6L786.7 170.0L789.3 172.3L791.9 172.7L794.5 174.6L797.1 173.5L799.7 176.2L802.3 177.6L804.9 178.8L807.5 179.1L810.1 180.1L812.7 182.5L815.3 183.1L817.8 184.6L820.3 184.4L822.8 187.1L825.3 187.4L827.8 189.7L830.3 190.9L832.8 191.6L835.3 193.1L837.9 193.5L840.4 195.6L842.9 198.5L845.4 197.8L847.9 198.7L850.4 200.7L852.9 201.3L855.4 203.3L857.9 203.1L860.4 205.3L862.9 206.2L865.3 207.2L867.8 208.8L870.2 210.1L872.7 212.3L875.1 212.9L877.5 216.5L880.0 215.5L882.4 216.9L884.9 219.0L887.4 220.5L889.9 221.7L892.4 223.0L894.9 224.9L897.4 226.0L899.9 225.7L902.4 226.9L904.9 228.9L907.5 230.9L910.0 232.5L912.6 233.2L915.1 234.6L917.7 235.4L920.2 237.1L922.8 236.2L925.4 238.1L928.0 239.3L930.5 240.3L933.1 241.2L935.7 242.7L938.3 242.8L940.8 245.3L943.4 246.3L946.0 246.6L948.6 248.6L951.1 250.3L953.7 251.3L956.2 252.0L958.8 253.5L961.3 254.8L963.9 255.5L966.4 257.0L968.9 257.8L971.4 258.9L974.0 260.5L976.5 262.1L979.0 263.0L981.5 264.2L984.0 265.5L986.5 266.8L989.0 267.9L991.5 269.4L994.0 270.2L996.5 271.6L999.0 273.0L1001.5 274.3L1004.0 275.8L1006.5 276.9L1009.1 278.4L1011.6 279.4L1014.1 280.6L1016.6 281.7L1019.1 283.1L1021.6 284.5L1024.1 285.5L1026.6 286.9L1029.1 287.9L1031.6 289.4L1034.2 290.7L1036.7 292.0L1039.2 292.9L1041.8 294.0L1044.4 295.4L1046.9 296.1L1049.5 297.5L1052.1 299.0L1054.6 299.6L1057.2 301.0L1059.8 302.1L1062.4 302.6L1065.0 304.1L1067.6 304.8L1070.3 306.0L1072.9 307.2L1075.5 308.2L1078.1 309.1L1080.8 309.9L1083.4 311.0L1086.1 312.1L1088.7 313.1L1091.4 314.2L1094.0 314.9L1096.7 315.3L1099.4 316.3L1102.1 317.4L1104.8 318.0L1107.5 318.6L1110.2 319.4L1112.9 319.9L1115.7 320.7L1118.4 320.7L1121.2 321.9L1124.0 321.5L1126.7 322.2L1129.5 323.0L1132.3 323.4L1135.0 323.8L1137.8 324.2L1140.5 325.2L1143.3 325.3L1146.0 325.9L1148.8 326.7L1151.5 327.7L1154.2 327.9L1156.9 328.9L1159.6 329.8L1162.3 330.4L1165.0 331.1L1167.7 332.0L1170.4 332.5L1173.1 333.7L1175.8 334.0L1178.6 334.8L1181.3 335.5L1184.0 336.3L1186.7 337.1L1189.4 337.8L1192.1 338.7L1194.8 339.0L1197.5 340.3L1200.2 340.8L1202.9 341.5L1205.6 342.5L1208.3 343.1L1211.0 344.3L1213.7 345.1L1216.3 345.6L1219.0 346.2L1221.7 347.1L1224.4 348.1L1227.0 348.9L1229.7 349.9L1232.4 350.4L1235.1 351.4L1237.8 352.2L1240.5 353.3L1243.2 353.9L1245.9 354.7L1248.6 355.1L1251.3 356.0L1254.0 356.4L1256.7 357.0L1259.5 357.6L1262.2 358.6L1264.9 359.5L1267.6 360.3L1270.3 361.4L1272.9 362.2L1275.5 362.8L1278.2 364.0L1280.8 365.1L1283.3 366.2L1285.9 367.4L1288.4 368.2L1291.0 369.8L1293.5 370.9L1296.0 372.5L1298.4 373.7L1300.9 374.9L1303.3 376.3L1305.7 377.8L1308.1 378.9L1310.5 380.8L1312.8 382.4L1315.2 384.1L1317.5 385.2L1319.8 387.0L1322.1 388.8L1324.3 390.5L1326.6 392.2L1328.8 393.5L1331.0 395.7L1333.2 397.2L1335.4 398.9L1337.5 400.9L1339.7 402.5L1341.8 404.4L1343.8 406.8L1345.9 408.2L1347.9 410.3L1349.8 412.1L1351.8 414.5L1353.7 416.3L1355.6 418.5L1357.4 420.5L1359.3 422.6L1361.1 424.7L1362.9 426.7L1364.6 429.1L1366.3 431.4L1368.0 433.2L1369.6 436.1L1371.3 438.0L1372.8 440.9L1374.4 443.0L1375.9 445.5L1377.4 447.7L1378.8 449.9L1380.2 452.3L1381.6 455.0L1383.0 457.6L1384.3 460.1L1385.7 462.4L1387.0 464.6L1388.3 467.0L1389.6 470.0L1390.9 472.2L1392.1 474.6L1393.4 477.4L1394.6 479.8L1395.8 482.1L1397.0 484.7L1398.2 487.4L1399.4 490.4L1400.5 492.2L1401.7 495.0L1402.8 497.3L1403.9 500.2L1405.0 502.6L1406.1 505.2L1407.2 507.8L1408.2 510.4L1409.3 513.2L1410.4 515.8L1411.4 518.1L1412.5 520.6L1413.5 523.4L1414.5 526.3L1415.6 528.6L1416.6 531.5L1417.6 533.8L1418.7 536.9L1419.7 539.2L1420.7 541.7L1421.7 544.8L1422.7 547.0L1423.7 549.5L1424.7 552.4L1425.7 555.0L1426.7 557.4L1427.7 560.1L1428.7 562.6L1429.7 564.6L1430.7 568.0L1431.7 570.2L1432.7 573.6L1433.7 575.6L1434.7 578.0L1435.7 581.3L1436.7 583.8L1437.7 586.2L1438.7 588.8L1439.7 591.7L1440.7 594.2L1441.7 596.9L1442.7 599.5L1443.8 601.8L1444.8 604.6L1445.8 607.4L1446.9 609.9L1447.9 612.6L1449.0 615.1L1450.1 618.0L1451.1 620.0L1452.2 623.0L1453.3 625.3L1454.4 628.1L1455.5 630.6L1456.6 633.4L1457.7 636.0L1458.7 638.8L1459.8 641.0L1460.9 643.6L1461.9 646.3L1462.9 649.0L1463.9 651.5L1464.9 654.0L1465.9 656.8L1466.9 659.2L1467.9 661.7L1468.9 664.9L1469.9 667.4L1470.9 669.7L1471.9 672.7L1473.0 675.2L1474.0 677.6L1475.1 680.2L1476.2 682.6L1477.3 685.5L1478.4 688.1L1479.5 690.7L1480.7 693.0L1481.8 695.4L1483.0 698.3L1484.1 700.5L1485.3 703.5L1486.5 705.9L1487.7 708.5L1488.8 710.9L1490.0 713.3L1491.2 716.0L1492.4 718.5L1493.5 721.0L1494.7 723.7L1495.9 726.3L1497.0 729.3L1498.2 731.5L1499.3 734.0L1500.5 736.4L1501.6 739.1L1502.8 741.2L1504.0 743.9L1505.1 746.7L1506.3 749.3L1507.5 751.7L1508.7 754.3L1509.9 756.9L1511.1 759.5L1512.3 761.9L1513.5 764.6L1514.7 766.8L1516.0 769.5L1517.2 772.0L1518.5 774.6L1519.8 777.1L1521.1 779.4L1522.4 782.0L1523.8 784.4L1525.2 786.7L1526.6 789.2L1528.1 791.6L1529.5 794.1L1531.1 796.6L1532.6 798.3L1534.1 801.2L1535.7 803.6L1537.3 805.4L1539.0 807.8L1540.6 810.6L1542.3 812.3L1544.0 815.1L1545.7 816.8L1547.4 819.0L1549.2 821.2L1551.0 823.7L1552.8 825.7L1554.6 827.7L1556.5 829.9L1558.4 831.7L1560.3 834.1L1562.3 835.9L1564.3 838.2L1566.4 839.6L1568.4 841.9L1570.6 843.8L1572.7 845.6L1574.9 846.8L1577.1 848.7L1579.4 850.8L1581.7 852.0L1584.0 853.7L1586.3 855.7L1588.7 856.7L1591.1 858.2L1593.6 859.2L1596.1 861.2L1598.6 862.1L1601.1 863.5L1603.6 864.8L1606.2 865.8L1608.7 867.2L1611.3 867.9L1613.9 869.3L1616.5 870.0L1619.2 871.2L1621.8 872.1L1624.4 873.0L1627.1 874.0L1629.7 875.1L1632.4 875.6L1635.1 876.2L1637.8 877.1L1640.5 878.1L1643.2 878.8L1645.9 879.8L1648.6 880.5L1651.3 881.1L1654.0 881.6L1656.7 882.2L1659.4 883.3L1662.2 883.8L1664.9 884.7L1667.6 885.4L1670.3 885.9L1673.0 886.5L1675.8 887.3L1678.5 887.7L1681.2 888.8L1683.9 889.5L1686.6 890.4L1689.3 890.9L1692.0 891.8L1694.7 892.5L1697.4 893.0L1700.1 894.0L1702.8 894.7L1705.5 895.6L1708.1 896.7L1710.8 897.8L1713.4 898.5L1716.1 899.5L1718.7 900.3L1721.3 901.5L1723.9 902.1L1726.5 903.3L1729.1 904.5L1731.7 905.8L1734.3 906.8L1736.9 908.0L1739.6 908.9L1742.2 909.6L1744.8 910.3L1747.5 911.7L1750.1 912.3L1752.7 913.5L1755.4 914.3L1758.0 915.3L1760.7 916.2L1763.3 917.3L1765.9 918.2L1768.5 919.3L1771.2 920.1L1773.8 921.2L1776.4 922.1L1779.0 923.4L1781.6 924.5L1784.2 925.5L1786.8 926.3L1789.4 927.5L1792.0 928.6L1794.6 929.4L1797.1 930.7L1799.7 932.4L1802.3 932.8L1804.8 934.3L1807.4 935.3L1810.0 936.6L1812.5 938.0L1815.1 938.9L1817.6 940.0L1820.2 941.5L1822.7 942.6L1825.3 943.6L1827.8 944.9L1830.4 946.0L1832.9 947.1L1835.5 947.7L1838.1 949.4L1840.6 950.5L1843.2 951.6L1845.7 953.0L1848.3 953.8L1850.9 955.1L1853.4 956.5L1856.0 957.4L1858.6 958.5L1861.2 959.6L1863.7 960.6L1866.3 961.7L1868.9 963.3L1871.5 964.3L1874.1 964.4L1876.7 966.2L1879.3 966.8L1882.0 968.0L1884.6 968.9L1887.2 969.9L1889.9 970.8L1892.5 971.7L1895.2 972.4L1897.9 973.7L1900.5 974.2L1903.2 974.9L1905.9 976.0L1908.6 976.5L1911.3 977.4L1914.0 978.5L1916.7 979.1L1919.4 979.6L1922.1 980.3L1924.9 981.1L1927.6 981.4L1930.3 982.0L1933.1 982.9L1935.8 983.9L1938.6 983.6L1941.3 984.5L1944.1 985.2L1946.9 985.2L1949.6 986.0L1952.4 986.3L1955.2 986.9L1958.0 987.0L1960.8 987.1L1963.5 988.1L1966.3 988.3L1969.1 988.4L1971.9 988.7L1974.7 989.1L1977.5 988.7L1980.3 989.6L1983.1 989.5L1985.9 989.6L1988.7 989.6L1991.5 989.7L1994.3 990.1L1997.1 990.0L1999.9 989.9L2002.8 990.1L2005.6 989.9L2008.4 989.7L2011.2 989.5L2014.0 989.6L2016.8 989.1L2019.6 989.1L2022.3 988.6L2025.1 988.4L2027.9 987.9L2030.7 987.7L2033.5 987.5L2036.2 986.7L2039.0 986.4L2041.8 985.7L2044.5 985.2L2047.3 984.8L2050.0 983.6L2052.8 983.3L2055.5 983.2L2058.2 982.4L2060.9 981.3L2063.7 981.0L2066.4 980.1L2069.1 979.7L2071.8 978.9L2074.5 977.7L2077.2 977.2L2079.9 976.2L2082.6 975.8L2085.3 974.7L2088.0 974.2L2090.7 973.7L2093.4 972.3L2096.1 971.5L2098.8 971.0L2101.5 970.4L2104.1 969.3L2106.8 967.8L2109.5 967.6L2112.1 966.6L2114.8 966.0L2117.4 964.9L2120.1 964.1L2122.7 963.1L2125.4 962.3L2128.0 961.5L2130.7 960.3L2133.3 959.4L2136.0 958.6L2138.6 957.3L2141.3 957.1L2144.0 955.3L2146.6 955.0L2149.3 953.7L2152.0 952.9L2154.6 952.2L2157.3 951.6L2160.0 950.6L2162.7 949.5L2165.3 948.7L2168.0 948.0L2170.7 947.0L2173.4 946.2L2176.0 945.5" stroke="#00B050"/>
<path d="M264.2 253.9L266.9 251.8L269.6 253.3L272.3 251.5L275.0 248.6L277.7 250.3L280.4 246.6L283.2 248.3L285.9 248.7L288.5 252.1L290.9 254.6L293.3 251.5L295.9 256.3L298.5 254.1L301.1 253.6L303.7 256.2L306.4 258.4L309.2 261.4L312.0 259.3L314.7 258.7L317.3 257.3L319.8 254.6L322.2 253.4L324.7 251.4L327.4 252.4L330.2 251.9L333.0 250.1L335.6 250.5L337.9 249.5L340.0 249.4L342.1 245.4L344.2 243.4L346.4 240.4L348.6 240.6L350.9 235.9L353.1 236.1L355.4 233.5L357.6 234.7L359.9 229.9L362.3 228.8L364.6 227.6L366.8 225.8L368.9 224.4L370.9 224.0L372.7 222.0L374.5 218.1L376.2 215.6L377.8 212.9L379.5 212.9L381.3 210.4L383.1 205.5L385.0 205.8L386.9 203.2L388.8 202.5L390.8 200.9L392.9 196.0L395.1 199.8L397.4 195.7L399.8 190.5L402.3 192.3L404.9 189.8L407.5 190.0L410.3 185.5L413.0 186.3L415.8 187.7L418.6 188.7L421.4 185.1L424.2 187.0L427.0 187.5L429.8 188.9L432.6 188.2L435.4 186.3L438.2 186.5L441.0 183.9L443.8 183.9L446.6 185.9L449.4 186.2L452.2 185.2L455.0 184.5L457.8 184.3L460.6 185.3L463.4 183.2L466.2 186.7L469.0 183.9L471.8 183.4L474.6 186.3L477.4 183.8L480.2 184.4L483.1 183.1L485.9 185.5L488.7 186.1L491.5 185.9L494.3 184.8L497.1 184.7L499.9 187.1L502.7 183.2L505.5 185.2L508.3 188.0L511.1 185.9L513.9 187.2L516.6 184.9L519.4 187.7L522.2 184.0L525.0 191.2L527.8 185.9L530.6 187.4L533.3 185.4L536.1 187.8L538.9 186.8L541.7 189.8L544.5 188.8L547.3 186.3L550.1 188.3L552.8 187.7L555.5 186.6L558.1 183.4L560.7 184.9L563.3 182.5L565.9 184.9L568.6 180.2L571.2 181.0L573.8 180.2L576.4 179.8L579.1 178.1L581.7 177.7L584.3 173.7L586.9 173.4L589.6 173.6L592.2 173.2L595.0 172.9L597.7 172.2L600.4 168.4L603.1 171.5L605.8 170.0L608.4 166.3L611.0 167.9L613.6 164.9L616.3 165.9L619.1 167.1L621.8 163.3L624.6 163.2L627.4 168.4L630.2 164.5L633.0 164.1L635.8 165.4L638.6 164.1L641.3 163.8L644.1 167.3L647.0 161.7L649.8 168.4L652.6 164.3L655.4 164.1L658.2 166.5L661.0 166.7L663.7 166.5L666.5 164.5L669.3 163.3L672.1 165.0L674.9 163.3L677.7 161.9L680.5 165.1L683.3 163.9L686.1 161.8L688.8 161.9L691.5 161.0L694.1 160.0L696.9 160.3L699.7 161.0L702.5 158.3L705.3 160.8L708.0 160.0L710.8 161.5L713.5 161.3L716.2 160.8L718.9 163.1L721.6 164.1L724.4 163.0L726.9 160.8L729.4 159.1L732.1 160.5L734.7 160.5L736.9 164.8L739.0 167.3L740.9 168.9L742.6 170.2L743.8 170.9L744.6 174.6L745.5 177.2L747.2 177.5L750.0 180.8L752.8 179.8L755.5 180.0L758.3 182.4L761.0 181.5L763.7 182.5L766.4 183.0L769.1 184.9L771.8 184.8L774.5 185.2L777.2 186.8L779.8 187.4L782.5 188.4L785.2 188.5L787.9 189.7L790.6 189.2L793.3 191.3L796.0 192.0L798.7 193.2L801.4 194.5L804.1 194.7L806.8 194.6L809.5 195.5L812.2 197.0L814.8 197.9L817.5 198.2L820.2 198.9L822.9 201.2L825.6 200.5L828.2 202.0L830.9 202.9L833.6 205.0L836.3 204.2L838.9 205.7L841.6 207.0L844.3 207.1L847.0 207.6L849.7 209.1L852.3 209.5L855.0 210.8L857.7 211.9L860.4 211.6L863.1 213.4L865.7 213.0L868.4 213.9L871.1 214.9L873.8 216.8L876.4 217.3L879.1 217.2L881.8 219.5L884.5 220.0L887.2 219.7L889.8 221.2L892.5 221.3L895.2 221.5L897.9 223.7L900.6 224.2L903.2 224.8L905.9 225.3L908.6 226.5L911.3 227.0L914.0 229.9L916.6 230.2L919.3 230.2L922.0 230.9L924.7 231.6L927.3 233.3L930.0 233.3L932.7 234.9L935.4 234.6L938.1 235.8L940.7 236.6L943.4 238.8L946.1 238.9L948.8 239.7L951.5 239.6L954.1 240.8L956.8 242.9L959.5 244.4L962.2 242.5L964.9 245.0L967.5 245.4L970.2 246.2L972.9 246.7L975.6 248.0L978.2 249.2L980.9 249.9L983.5 250.2L986.2 251.8L988.8 252.5L991.5 253.6L994.1 254.6L996.7 255.5L999.3 256.1L1001.9 257.9L1004.5 258.6L1007.1 259.8L1009.7 260.7L1012.3 261.8L1014.9 263.0L1017.4 264.1L1020.0 265.3L1022.6 266.1L1025.1 267.1L1027.7 268.5L1030.3 270.0L1032.9 270.6L1035.4 272.0L1038.0 273.1L1040.6 273.9L1043.1 275.7L1045.7 276.5L1048.3 277.7L1050.8 278.5L1053.4 280.0L1055.9 281.2L1058.5 282.5L1061.0 283.7L1063.5 284.7L1066.0 286.0L1068.5 287.4L1071.0 288.4L1073.5 290.1L1076.1 291.3L1078.6 292.3L1081.1 293.4L1083.7 294.6L1086.2 295.9L1088.8 297.0L1091.4 298.0L1093.9 298.9L1096.5 300.4L1099.1 301.4L1101.7 302.3L1104.2 303.8L1106.8 304.8L1109.4 305.9L1112.0 307.1L1114.5 308.1L1117.1 309.4L1119.7 310.6L1122.2 311.6L1124.8 312.7L1127.3 313.9L1129.8 315.1L1132.2 317.1L1134.6 318.0L1137.0 319.9L1139.4 321.0L1141.7 322.5L1144.0 324.6L1146.2 325.8L1148.4 327.8L1150.5 329.6L1152.6 331.3L1154.7 333.5L1156.6 335.4L1158.5 337.5L1160.3 339.1L1162.0 341.8L1163.7 344.1L1165.3 346.6L1166.8 348.7L1168.4 351.3L1169.9 353.2L1171.4 355.9L1172.9 358.4L1174.5 360.8L1176.0 363.0L1177.5 364.9L1179.0 367.4L1180.6 370.3L1182.1 372.4L1183.7 374.9L1185.3 377.0L1186.8 379.0L1188.4 381.8L1190.0 383.9L1191.7 386.0L1193.3 388.5L1195.0 390.3L1196.7 393.0L1198.4 395.2L1200.1 397.7L1201.9 399.4L1203.6 401.6L1205.5 404.1L1207.3 406.1L1209.2 408.0L1211.1 410.0L1213.0 412.3L1215.0 414.4L1216.9 415.7L1219.0 418.2L1221.0 420.0L1223.1 422.3L1225.2 423.7L1227.3 425.8L1229.4 427.2L1231.6 429.5L1233.8 431.0L1236.0 432.5L1238.3 434.6L1240.6 435.9L1242.9 437.5L1245.2 439.1L1247.5 440.8L1249.8 442.1L1252.2 443.9L1254.5 445.3L1256.9 446.9L1259.3 448.5L1261.6 450.2L1264.0 451.6L1266.4 452.9L1268.8 454.1L1271.2 455.9L1273.6 457.5L1275.9 458.4L1278.3 460.2L1280.6 461.8L1283.0 463.1L1285.3 465.2L1287.6 467.0L1289.9 468.0L1292.1 469.9L1294.4 471.7L1296.6 473.4L1298.9 474.9L1301.1 476.9L1303.3 478.8L1305.5 480.3L1307.7 481.9L1309.9 483.7L1312.0 485.5L1314.2 487.3L1316.3 489.2L1318.5 491.1L1320.6 492.8L1322.7 494.4L1324.8 496.4L1326.9 498.3L1328.9 500.2L1331.0 502.5L1333.0 503.9L1335.0 506.2L1337.0 508.2L1339.0 509.8L1341.0 512.2L1342.9 513.9L1344.8 515.9L1346.6 518.3L1348.5 520.2L1350.2 522.3L1352.0 525.2L1353.7 527.3L1355.4 529.0L1357.0 531.7L1358.6 533.8L1360.2 536.2L1361.7 538.3L1363.3 540.8L1364.8 543.3L1366.3 545.6L1367.8 547.9L1369.3 550.2L1370.8 552.6L1372.3 555.3L1373.8 557.2L1375.3 559.8L1376.8 562.1L1378.2 564.7L1379.7 566.7L1381.2 569.5L1382.6 572.0L1384.0 574.2L1385.4 576.7L1386.8 579.4L1388.2 581.8L1389.6 584.2L1390.9 586.4L1392.3 588.5L1393.6 591.0L1394.9 594.1L1396.1 596.4L1397.4 598.9L1398.7 601.4L1399.9 603.9L1401.1 606.3L1402.3 609.2L1403.6 611.4L1404.8 613.9L1406.0 616.6L1407.2 619.3L1408.4 621.2L1409.5 623.8L1410.7 626.7L1411.9 629.3L1413.0 631.8L1414.1 634.1L1415.2 637.2L1416.3 639.5L1417.3 642.1L1418.4 644.6L1419.3 647.3L1420.3 650.1L1421.2 652.7L1422.1 655.5L1422.9 657.8L1423.8 661.0L1424.6 663.5L1425.4 666.0L1426.2 668.6L1427.1 671.8L1427.9 674.0L1428.8 676.8L1429.8 679.5L1430.7 682.2L1431.7 685.0L1432.7 687.5L1433.7 690.3L1434.7 692.7L1435.7 695.4L1436.7 698.0L1437.7 700.4L1438.6 703.1L1439.6 705.4L1440.6 708.2L1441.6 710.7L1442.5 714.0L1443.5 716.0L1444.5 719.0L1445.5 721.4L1446.5 724.0L1447.4 726.8L1448.4 729.2L1449.4 732.2L1450.4 734.5L1451.4 737.2L1452.4 739.8L1453.4 742.4L1454.5 745.0L1455.5 747.9L1456.5 750.5L1457.6 752.9L1458.6 755.4L1459.7 758.0L1460.7 760.5L1461.7 763.4L1462.8 765.8L1463.8 768.6L1464.9 770.8L1465.9 773.6L1467.0 776.3L1468.0 778.7L1469.1 781.5L1470.1 784.1L1471.2 786.8L1472.2 789.9L1473.2 792.3L1474.3 794.9L1475.3 797.1L1476.3 799.7L1477.3 802.7L1478.4 805.2L1479.4 807.7L1480.4 810.3L1481.4 812.8L1482.5 815.5L1483.5 818.2L1484.6 820.8L1485.7 823.5L1486.7 825.7L1487.8 828.6L1488.9 831.0L1490.0 833.7L1491.1 836.4L1492.3 839.0L1493.4 841.6L1494.6 843.5L1495.7 846.6L1496.9 848.8L1498.1 851.8L1499.3 854.4L1500.5 857.0L1501.7 859.1L1502.9 861.5L1504.1 864.5L1505.3 866.4L1506.5 869.2L1507.7 871.9L1508.9 874.4L1510.1 877.0L1511.3 879.9L1512.6 882.1L1513.8 884.5L1515.0 887.0L1516.2 889.8L1517.4 891.9L1518.6 894.9L1519.8 897.0L1521.1 899.7L1522.3 902.2L1523.5 904.9L1524.8 907.3L1526.0 909.9L1527.3 912.1L1528.6 914.3L1530.0 917.3L1531.3 919.4L1532.7 922.2L1534.1 924.4L1535.6 926.8L1537.1 929.1L1538.7 931.5L1540.3 934.0L1541.9 936.2L1543.6 938.2L1545.3 940.2L1547.1 942.6L1548.9 944.9L1550.7 946.9L1552.6 949.2L1554.4 951.4L1556.3 953.4L1558.2 955.5L1560.1 957.6L1562.0 959.4L1564.0 961.3L1566.0 963.7L1568.1 965.4L1570.2 967.8L1572.3 969.3L1574.4 971.1L1576.6 972.6L1578.8 974.5L1581.1 976.2L1583.3 977.7L1585.6 979.3L1588.0 981.1L1590.3 982.6L1592.7 984.3L1595.0 985.4L1597.4 987.0L1599.9 988.8L1602.3 989.7L1604.7 991.4L1607.2 992.8L1609.6 994.3L1612.1 995.0L1614.6 996.8L1617.1 997.8L1619.6 999.3L1622.1 1000.3L1624.7 1001.5L1627.2 1002.6L1629.7 1003.9L1632.3 1004.9L1634.8 1005.9L1637.4 1007.5L1640.0 1008.8L1642.6 1009.2L1645.2 1010.7L1647.7 1011.6L1650.4 1013.0L1653.0 1013.6L1655.6 1014.8L1658.2 1015.8L1660.8 1016.7L1663.5 1018.1L1666.1 1018.7L1668.8 1019.3L1671.5 1020.7L1674.1 1021.3L1676.8 1022.6L1679.5 1022.7L1682.2 1023.6L1684.9 1024.8L1687.6 1025.6L1690.3 1026.5L1693.0 1026.9L1695.6 1027.5L1698.3 1028.7L1701.0 1029.4L1703.7 1030.0L1706.4 1030.7L1709.1 1031.8L1711.8 1032.9L1714.5 1033.4L1717.1 1034.2L1719.8 1035.0L1722.5 1035.7L1725.2 1036.6L1727.9 1037.5L1730.6 1038.3L1733.2 1038.9L1735.9 1040.1L1738.6 1041.3L1741.2 1041.8L1743.9 1042.6L1746.5 1043.7L1749.2 1044.7L1751.8 1045.2L1754.5 1046.4L1757.1 1047.6L1759.8 1048.0L1762.4 1049.0L1765.0 1050.4L1767.7 1051.3L1770.3 1052.6L1772.9 1052.9L1775.5 1054.6L1778.1 1055.2L1780.7 1056.2L1783.3 1057.6L1785.9 1058.6L1788.5 1059.6L1791.1 1060.7L1793.7 1062.1L1796.3 1062.6L1798.8 1063.8L1801.4 1065.2L1804.0 1066.4L1806.5 1067.8L1809.1 1068.4L1811.7 1069.8L1814.2 1070.7L1816.8 1072.2L1819.3 1073.2L1821.9 1073.9L1824.4 1075.5L1827.0 1076.9L1829.5 1078.1L1832.1 1078.7L1834.6 1080.2L1837.2 1081.1L1839.8 1082.2L1842.3 1083.5L1844.9 1084.8L1847.4 1086.2L1850.0 1086.8L1852.6 1088.4L1855.1 1089.4L1857.7 1090.1L1860.3 1091.8L1862.9 1092.7L1865.5 1094.0L1868.1 1094.4L1870.6 1095.7L1873.3 1096.8L1875.9 1098.1L1878.5 1098.9L1881.1 1100.1L1883.7 1100.9L1886.4 1102.0L1889.0 1102.8L1891.6 1103.8L1894.3 1105.0L1897.0 1105.5L1899.6 1106.6L1902.3 1107.3L1905.0 1108.2L1907.7 1109.0L1910.4 1109.4L1913.1 1110.5L1915.8 1111.1L1918.5 1112.1L1921.2 1112.6L1924.0 1113.2L1926.7 1113.8L1929.4 1114.6L1932.2 1115.2L1934.9 1115.8L1937.7 1116.1L1940.4 1116.6L1943.2 1117.0L1946.0 1117.9L1948.7 1118.3L1951.5 1118.7L1954.3 1119.0L1957.1 1119.6L1959.8 1120.2L1962.6 1120.2L1965.4 1120.3L1968.2 1120.7L1971.0 1121.4L1973.8 1121.6L1976.6 1121.7L1979.4 1121.5L1982.2 1121.6L1985.0 1122.1L1987.8 1122.1L1990.6 1122.5L1993.4 1122.7L1996.2 1122.8L1999.0 1122.4L2001.8 1122.4L2004.6 1122.4L2007.4 1122.8L2010.3 1122.7L2013.1 1122.2L2015.9 1122.2L2018.7 1122.3L2021.5 1122.2L2024.3 1122.3L2027.1 1122.1L2029.9 1121.9L2032.7 1121.7L2035.5 1121.2L2038.3 1121.5L2041.1 1121.1L2043.9 1120.4L2046.6 1120.0L2049.4 1120.2L2052.2 1119.3L2054.9 1119.0L2057.7 1118.3L2060.5 1117.8L2063.2 1117.2L2066.0 1116.4L2068.7 1115.9L2071.5 1115.4L2074.2 1115.0L2076.9 1114.4L2079.7 1113.8L2082.4 1113.4L2085.2 1113.0L2088.0 1111.8L2090.7 1111.9L2093.5 1111.0L2096.2 1110.5L2099.0 1110.0L2101.7 1109.2L2104.5 1108.7L2107.2 1108.4L2109.9 1107.7L2112.7 1107.0L2115.4 1106.2L2118.1 1105.8L2120.8 1104.8L2123.6 1103.9L2126.3 1103.4L2129.0 1102.6L2131.7 1102.3L2134.5 1101.7L2137.2 1100.8L2139.9 1100.5L2142.7 1100.0L2145.5 1099.5L2148.2 1098.3L2151.0 1098.8L2153.8 1097.9L2156.5 1097.3L2159.3 1097.4L2162.1 1096.7L2164.9 1096.7L2167.7 1096.3L2170.5 1096.3L2173.3 1095.4L2176.0 1095.2" stroke="#FF9900"/>
<path d="M264.2 329.5L266.9 331.3L269.7 325.4L272.5 326.7L275.3 328.9L278.1 328.8L280.8 326.0L283.3 330.3L285.5 331.8L287.3 333.6L288.9 334.6L290.5 337.0L292.3 339.5L294.6 340.3L297.4 342.1L300.2 341.3L302.9 342.9L305.6 340.1L308.3 342.5L311.0 339.6L313.6 340.5L316.2 337.3L318.8 334.8L321.2 333.8L323.6 333.2L326.0 333.4L328.3 333.9L330.7 327.2L333.1 327.2L335.7 324.8L338.3 325.7L340.7 322.9L342.8 324.4L344.6 320.1L346.3 317.4L348.0 316.3L349.9 314.4L351.9 315.6L354.1 310.8L356.4 311.8L358.7 309.2L361.0 303.6L363.2 304.0L365.3 304.1L367.3 298.8L369.4 296.2L371.3 294.8L373.3 294.5L375.2 289.7L377.0 288.0L378.8 287.9L380.5 287.4L382.1 284.0L383.7 280.5L385.4 278.9L386.9 276.6L388.3 270.9L389.7 270.3L391.1 266.9L392.7 266.2L394.6 264.7L396.8 263.0L399.3 259.3L402.0 260.2L404.7 259.2L407.4 257.9L410.1 256.3L412.8 256.4L415.6 253.2L418.3 254.7L421.0 254.9L423.8 254.8L426.5 256.2L429.2 254.5L431.9 251.7L434.6 253.6L437.4 252.1L440.1 251.2L442.8 247.5L445.5 249.9L448.2 248.0L451.0 247.4L453.7 245.7L456.4 247.1L459.1 243.0L461.8 241.8L464.6 248.8L467.3 244.7L470.1 244.6L472.9 243.5L475.7 241.9L478.5 242.9L481.3 241.5L484.1 244.5L486.9 244.6L489.7 242.0L492.5 243.3L495.3 244.2L498.1 241.7L500.9 243.3L503.7 244.1L506.5 243.2L509.3 242.2L512.1 243.2L514.9 242.3L517.5 243.4L520.2 246.2L522.9 246.0L525.7 244.8L528.3 246.3L530.8 246.0L533.4 240.4L536.0 240.3L538.8 241.9L541.6 243.9L544.3 243.2L547.1 241.7L549.9 244.4L552.7 242.7L555.5 242.1L558.2 241.4L561.0 237.9L563.7 241.9L566.2 239.1L568.7 237.6L571.2 237.6L573.6 237.8L576.0 233.3L578.4 230.1L580.7 232.2L583.0 230.1L585.4 225.2L588.0 228.3L590.6 224.2L593.4 224.0L596.1 224.5L598.9 224.3L601.5 223.3L604.2 219.9L606.8 220.9L609.4 219.8L612.0 220.4L614.7 218.6L617.4 218.0L620.1 213.5L622.8 217.7L625.6 217.3L628.4 215.7L631.2 213.6L633.9 214.5L636.7 212.6L639.5 214.7L642.3 216.3L645.1 214.4L647.9 213.8L650.6 213.3L653.4 211.8L656.2 212.7L659.0 211.1L661.8 208.8L664.5 210.9L667.2 208.1L669.9 207.7L672.6 207.1L675.4 210.9L678.2 208.5L681.0 207.0L683.8 206.0L686.6 208.3L689.4 207.3L692.2 209.3L695.0 209.5L697.7 208.2L700.4 208.6L703.2 210.1L705.9 210.2L708.7 211.6L711.5 213.8L714.3 211.3L717.1 213.1L719.9 212.5L722.7 213.0L725.5 213.4L728.3 212.4L731.0 212.0L733.6 210.9L736.2 209.2L738.6 210.4L739.5 213.5L739.9 215.3L740.2 217.2L740.4 221.3L740.6 224.0L740.9 224.4L741.5 227.9L742.8 229.9L745.2 233.5L747.9 230.5L750.5 231.4L753.2 230.7L756.0 230.3L758.7 230.1L761.5 230.8L764.2 233.2L766.9 232.7L769.6 232.3L772.3 234.3L775.1 234.7L777.9 235.2L780.7 235.3L783.4 235.9L786.2 236.2L789.0 236.4L791.8 237.5L794.6 237.2L797.3 237.9L800.1 237.4L802.9 237.8L805.7 237.8L808.4 239.4L811.2 239.7L814.0 239.1L816.7 240.8L819.5 240.6L822.3 241.4L825.0 242.4L827.8 242.2L830.5 243.9L833.3 242.9L836.0 243.8L838.7 245.7L841.5 246.1L844.2 247.2L847.0 246.4L849.7 247.3L852.5 248.0L855.2 247.5L858.0 248.3L860.7 248.9L863.4 250.2L866.2 250.6L868.9 252.3L871.6 252.7L874.3 253.0L877.1 252.8L879.8 254.9L882.5 254.8L885.2 255.5L887.9 256.2L890.7 257.8L893.4 257.8L896.2 257.3L898.9 258.3L901.7 259.1L904.4 260.1L907.2 260.5L909.9 260.7L912.7 260.4L915.5 261.2L918.2 262.3L921.0 263.4L923.7 263.0L926.5 263.4L929.3 264.5L932.0 265.4L934.8 264.6L937.5 264.2L940.3 266.5L943.0 266.9L945.7 267.4L948.5 268.4L951.2 268.0L953.9 270.4L956.6 270.8L959.4 271.8L962.1 271.6L964.8 272.8L967.5 273.1L970.2 273.4L973.0 274.6L975.7 275.0L978.4 275.5L981.1 276.3L983.8 276.9L986.6 277.7L989.3 278.3L992.0 279.2L994.7 279.7L997.4 280.2L1000.2 281.3L1002.9 281.5L1005.6 282.3L1008.3 283.3L1011.0 283.6L1013.8 284.4L1016.5 285.3L1019.2 285.9L1021.9 286.8L1024.5 287.6L1027.2 288.5L1029.9 288.9L1032.6 290.2L1035.3 291.1L1037.9 291.9L1040.6 292.6L1043.3 293.4L1046.0 294.1L1048.6 295.0L1051.3 296.2L1054.0 296.9L1056.7 297.5L1059.3 298.4L1062.0 299.3L1064.7 300.0L1067.4 301.0L1070.0 301.8L1072.7 303.1L1075.4 303.7L1078.1 304.5L1080.8 305.2L1083.4 306.3L1086.1 306.9L1088.8 307.7L1091.4 308.5L1094.1 309.6L1096.8 310.4L1099.4 311.1L1102.0 312.7L1104.7 313.4L1107.3 314.3L1109.9 315.5L1112.5 315.8L1115.1 317.4L1117.6 318.6L1120.2 319.9L1122.7 320.7L1125.3 322.3L1127.8 323.1L1130.2 324.6L1132.7 326.0L1135.1 327.7L1137.4 329.1L1139.8 330.7L1142.1 332.2L1144.3 333.6L1146.5 335.7L1148.7 337.3L1150.8 339.4L1152.7 341.6L1154.6 343.5L1156.3 345.6L1158.0 347.8L1159.5 350.5L1160.9 352.7L1162.3 355.0L1163.6 357.8L1164.8 360.3L1166.0 362.6L1167.2 365.1L1168.4 367.9L1169.6 370.4L1170.8 372.9L1172.0 375.2L1173.2 377.9L1174.4 380.4L1175.6 383.0L1176.9 385.8L1178.1 387.8L1179.3 390.3L1180.6 393.1L1181.8 395.3L1183.1 397.8L1184.4 400.4L1185.7 403.0L1187.0 405.5L1188.3 407.8L1189.6 410.3L1191.0 412.9L1192.3 415.3L1193.7 417.6L1195.1 420.4L1196.5 422.7L1198.0 425.2L1199.4 427.5L1200.9 430.0L1202.4 432.0L1203.9 434.3L1205.5 436.7L1207.1 439.1L1208.7 441.6L1210.3 443.9L1211.9 445.8L1213.6 448.1L1215.3 450.5L1217.0 452.9L1218.7 454.8L1220.5 457.2L1222.3 459.4L1224.1 461.2L1225.9 463.2L1227.7 465.9L1229.6 467.7L1231.5 469.8L1233.4 471.7L1235.4 473.8L1237.4 475.6L1239.4 478.0L1241.5 479.7L1243.6 481.8L1245.7 483.2L1247.9 484.9L1250.0 487.2L1252.2 488.9L1254.4 490.8L1256.6 492.3L1258.8 494.1L1261.0 496.1L1263.2 497.7L1265.4 499.6L1267.6 500.6L1269.9 502.7L1272.1 504.4L1274.4 505.7L1276.7 507.7L1278.9 509.2L1281.2 510.6L1283.4 512.5L1285.7 513.9L1287.9 515.9L1290.2 517.3L1292.5 519.3L1294.7 521.1L1297.0 522.4L1299.2 524.1L1301.4 526.1L1303.6 527.6L1305.9 529.6L1308.1 531.2L1310.2 532.9L1312.4 534.6L1314.6 536.4L1316.7 537.9L1318.8 540.0L1321.0 541.9L1323.1 543.7L1325.2 545.7L1327.2 547.4L1329.3 549.7L1331.3 551.3L1333.3 553.6L1335.3 555.2L1337.2 557.4L1339.1 559.4L1341.0 561.1L1342.8 563.5L1344.6 565.9L1346.4 567.9L1348.2 570.5L1349.9 572.5L1351.6 574.9L1353.3 576.8L1354.9 579.3L1356.5 581.6L1358.1 583.6L1359.7 586.0L1361.3 588.6L1362.8 590.3L1364.4 593.0L1365.9 595.2L1367.4 597.8L1368.9 600.4L1370.4 602.4L1371.9 604.8L1373.4 607.1L1374.9 609.5L1376.3 612.0L1377.8 614.5L1379.3 616.9L1380.7 619.0L1382.2 621.3L1383.6 624.2L1385.0 626.6L1386.4 628.8L1387.8 631.6L1389.2 634.0L1390.5 636.3L1391.9 638.4L1393.2 641.1L1394.5 643.5L1395.8 646.0L1397.0 648.6L1398.2 651.0L1399.5 653.4L1400.7 655.8L1401.9 658.8L1403.1 661.2L1404.3 663.4L1405.5 667.0L1406.7 669.2L1408.0 671.2L1409.3 673.7L1410.6 676.4L1412.0 678.6L1413.3 681.3L1414.6 683.5L1415.9 685.8L1417.2 688.8L1418.4 691.3L1419.6 693.6L1420.8 696.2L1422.0 698.7L1423.2 701.4L1424.4 703.8L1425.6 706.3L1426.7 709.1L1427.9 711.2L1429.0 713.8L1430.2 716.9L1431.3 719.1L1432.5 721.7L1433.6 724.5L1434.8 727.0L1435.9 729.5L1437.0 732.0L1438.1 734.5L1439.2 737.6L1440.3 739.9L1441.4 742.4L1442.5 744.9L1443.6 747.6L1444.7 750.0L1445.8 752.3L1446.9 755.2L1448.0 758.1L1449.1 760.4L1450.2 762.8L1451.3 765.6L1452.4 767.8L1453.5 770.4L1454.6 773.4L1455.7 776.2L1456.8 778.6L1457.8 781.4L1458.9 783.3L1460.0 786.1L1461.1 789.1L1462.2 791.5L1463.3 794.0L1464.4 796.4L1465.5 799.3L1466.7 801.5L1467.8 804.8L1468.9 806.5L1470.1 809.3L1471.3 811.8L1472.5 814.3L1473.7 817.2L1474.9 819.6L1476.1 822.2L1477.3 824.5L1478.6 827.5L1479.8 829.4L1481.1 832.4L1482.3 834.7L1483.6 837.0L1484.9 839.3L1486.2 842.4L1487.4 844.4L1488.7 847.1L1490.0 849.8L1491.3 852.2L1492.6 854.6L1493.9 857.0L1495.2 859.6L1496.5 862.1L1497.8 864.7L1499.1 867.0L1500.4 869.3L1501.7 871.7L1503.1 874.7L1504.4 877.0L1505.7 878.8L1507.1 882.0L1508.4 884.3L1509.8 886.8L1511.1 888.8L1512.5 891.9L1513.8 894.2L1515.2 896.5L1516.6 899.1L1517.9 901.2L1519.3 904.1L1520.7 906.6L1522.0 909.1L1523.4 911.4L1524.8 913.8L1526.2 916.3L1527.6 918.3L1529.0 920.9L1530.5 923.3L1531.9 925.6L1533.4 928.6L1534.9 930.4L1536.4 933.2L1538.0 935.3L1539.6 937.6L1541.2 939.8L1542.8 942.1L1544.4 944.2L1546.1 946.4L1547.8 948.9L1549.5 950.8L1551.3 953.4L1553.1 955.5L1555.0 957.7L1556.9 959.5L1558.8 961.4L1560.8 963.8L1562.9 965.4L1565.0 966.9L1567.1 969.0L1569.3 970.8L1571.6 972.4L1573.9 974.1L1576.2 975.9L1578.5 977.7L1580.9 979.3L1583.3 980.3L1585.7 981.6L1588.2 982.8L1590.7 984.1L1593.2 985.2L1595.7 986.8L1598.3 987.7L1600.9 989.4L1603.5 989.9L1606.1 991.0L1608.7 991.9L1611.3 993.4L1613.9 994.3L1616.5 995.2L1619.2 995.5L1621.8 997.2L1624.5 997.7L1627.1 998.7L1629.8 999.4L1632.5 1000.6L1635.1 1001.2L1637.8 1002.1L1640.5 1003.0L1643.2 1003.9L1645.9 1003.9L1648.6 1005.0L1651.3 1005.8L1654.1 1006.7L1656.8 1007.2L1659.5 1008.3L1662.2 1008.5L1665.0 1009.3L1667.7 1010.0L1670.4 1010.2L1673.2 1011.0L1675.9 1011.9L1678.6 1012.3L1681.4 1012.8L1684.1 1013.3L1686.9 1014.2L1689.6 1014.3L1692.4 1014.9L1695.1 1015.7L1697.9 1016.2L1700.7 1016.6L1703.4 1017.4L1706.2 1017.6L1708.9 1018.0L1711.7 1018.6L1714.4 1019.7L1717.1 1020.4L1719.9 1021.0L1722.6 1021.5L1725.3 1022.0L1728.0 1022.9L1730.7 1023.7L1733.4 1024.5L1736.1 1025.4L1738.8 1026.0L1741.5 1026.7L1744.2 1027.5L1746.9 1027.9L1749.7 1028.6L1752.4 1029.5L1755.1 1030.2L1757.8 1030.8L1760.5 1031.5L1763.2 1032.3L1765.9 1033.4L1768.6 1033.3L1771.3 1034.5L1774.0 1034.9L1776.7 1036.3L1779.4 1036.8L1782.1 1037.7L1784.7 1038.5L1787.4 1039.6L1790.1 1040.1L1792.8 1041.4L1795.5 1041.9L1798.2 1042.8L1800.8 1043.5L1803.5 1044.3L1806.2 1045.1L1808.9 1046.0L1811.6 1046.4L1814.3 1047.4L1817.0 1048.4L1819.6 1049.1L1822.3 1049.8L1825.0 1050.9L1827.7 1051.7L1830.4 1052.1L1833.1 1053.4L1835.7 1054.0L1838.4 1054.8L1841.1 1055.5L1843.8 1056.1L1846.5 1057.1L1849.2 1058.3L1851.9 1058.9L1854.6 1059.7L1857.3 1060.4L1860.0 1061.1L1862.7 1061.9L1865.4 1062.5L1868.1 1063.4L1870.8 1063.9L1873.6 1064.6L1876.3 1065.2L1879.0 1065.9L1881.7 1066.7L1884.4 1067.4L1887.2 1068.3L1889.9 1068.5L1892.6 1069.5L1895.3 1070.2L1898.0 1071.0L1900.8 1071.7L1903.5 1072.1L1906.2 1072.8L1908.9 1073.1L1911.6 1074.0L1914.4 1075.0L1917.1 1075.4L1919.8 1075.6L1922.6 1076.5L1925.4 1077.1L1928.1 1077.3L1930.9 1077.6L1933.6 1078.2L1936.4 1078.8L1939.2 1079.4L1942.0 1079.6L1944.8 1080.2L1947.5 1080.2L1950.3 1080.9L1953.1 1081.1L1955.9 1081.1L1958.7 1081.9L1961.5 1081.8L1964.3 1082.2L1967.1 1081.8L1969.9 1082.2L1972.7 1082.5L1975.5 1082.5L1978.3 1082.8L1981.1 1083.0L1983.9 1083.3L1986.7 1083.3L1989.5 1083.3L1992.3 1083.5L1995.1 1083.5L1997.9 1083.4L2000.7 1083.5L2003.5 1083.4L2006.3 1083.5L2009.1 1083.0L2011.9 1083.5L2014.7 1083.3L2017.5 1083.0L2020.3 1083.1L2023.1 1082.8L2025.9 1082.9L2028.7 1082.3L2031.5 1082.4L2034.3 1082.2L2037.1 1081.8L2039.9 1081.7L2042.7 1081.2L2045.5 1081.1L2048.3 1080.7L2051.1 1080.7L2053.9 1080.3L2056.7 1080.3L2059.4 1079.6L2062.2 1078.9L2065.0 1079.4L2067.8 1078.5L2070.6 1078.2L2073.4 1077.8L2076.1 1077.1L2078.9 1077.0L2081.7 1076.5L2084.4 1076.3L2087.2 1075.2L2090.0 1075.1L2092.7 1074.9L2095.5 1073.7L2098.2 1073.5L2101.0 1073.4L2103.8 1072.7L2106.5 1072.0L2109.3 1071.8L2112.0 1071.2L2114.8 1070.8L2117.6 1070.0L2120.3 1069.5L2123.1 1069.3L2125.8 1068.6L2128.6 1068.4L2131.4 1067.6L2134.1 1067.4L2136.9 1067.0L2139.7 1066.4L2142.5 1066.6L2145.3 1065.9L2148.1 1065.7L2150.9 1065.4L2153.7 1065.4L2156.4 1064.7L2159.2 1065.1L2162.0 1065.0L2164.8 1064.5L2167.6 1064.5L2170.4 1064.0L2173.2 1064.0L2176.0 1063.7" stroke="#7030A0"/>
</g>
<g fill="none" stroke-width="10.0" stroke-linejoin="round" stroke-linecap="butt">
<path d="M259.5 2144.1L261.8 2144.0L264.4 2143.3L265.8 2144.4L266.9 2149.1L268.0 2151.3L269.5 2150.9L271.9 2154.2L273.5 2157.6L274.4 2159.6L275.2 2161.1L275.8 2164.0L276.4 2169.2L277.1 2169.2L277.7 2173.0L278.3 2175.8L279.0 2178.7L279.7 2182.3L280.4 2184.3L281.0 2186.1L281.7 2188.2L282.4 2193.4L283.1 2195.7L283.8 2198.1L284.5 2198.6L285.2 2203.2L285.9 2205.1L286.5 2207.6L287.2 2211.0L287.8 2213.8L288.5 2216.0L289.1 2219.8L289.7 2222.3L290.2 2223.3L290.8 2226.9L291.4 2229.8L292.0 2233.3L292.5 2236.4L293.1 2238.8L293.6 2240.1L294.2 2243.2L294.7 2245.0L295.2 2249.0L295.8 2251.2L296.5 2253.4L297.2 2256.3L298.1 2261.2L299.2 2262.1L300.5 2263.7L301.9 2269.6L303.4 2270.3L304.9 2272.2L306.6 2274.2L308.3 2277.4L310.0 2278.9L311.7 2280.7L313.5 2282.9L315.2 2284.6L316.8 2287.2L318.5 2289.1L320.4 2293.6L322.6 2293.8L325.1 2296.5L327.7 2297.1L330.4 2296.3L333.1 2297.6L335.9 2297.3L338.1 2294.9L340.0 2293.0L341.7 2291.4L343.5 2288.5L345.6 2288.2L348.0 2286.5L350.4 2283.1L352.8 2284.1L354.8 2279.4L356.6 2279.4L358.3 2277.1L359.8 2274.0L361.3 2273.7L362.7 2267.9L364.0 2266.4L365.3 2264.3L366.5 2262.9L367.7 2258.1L368.9 2255.8L370.1 2254.9L371.4 2252.2L372.7 2248.9L374.0 2247.1L375.3 2243.3L376.5 2241.3L377.6 2238.0L378.7 2236.4L379.6 2234.1L380.5 2230.0L381.3 2228.9L382.3 2225.1L383.3 2221.9L384.5 2220.5L385.9 2216.7L387.4 2215.2L389.2 2214.0L391.0 2210.3L392.9 2208.8L394.8 2206.7L396.8 2205.0L398.9 2202.4L401.2 2200.1L403.8 2199.3L406.6 2200.6L409.3 2199.4L412.0 2201.9L414.6 2203.6L417.1 2203.2L419.6 2206.5L422.0 2207.4L424.5 2208.5L427.2 2208.0L429.9 2208.8L432.7 2208.5L435.5 2208.9L438.3 2209.2L441.1 2210.2L443.9 2207.8L446.7 2208.1L449.4 2209.8L451.9 2210.7L454.3 2211.8L456.6 2215.2L459.2 2214.6L461.8 2217.4L464.5 2216.7L467.2 2216.5L469.9 2217.6L472.5 2218.2L475.2 2219.5L477.8 2220.2L480.4 2223.1L483.0 2223.5L485.6 2224.5L488.0 2225.5L490.5 2225.2L493.1 2227.3L495.7 2228.8L498.3 2229.0L500.9 2231.6L503.5 2231.9L506.2 2232.3L508.9 2232.1L511.6 2233.5L514.3 2234.7L516.9 2236.5L519.6 2235.7L522.3 2237.9L525.0 2237.9L527.7 2240.5L530.3 2241.4L532.8 2239.4L535.2 2242.8L537.7 2243.0L540.2 2243.6L543.0 2246.0L545.8 2244.8L548.5 2244.1L551.2 2243.5L553.8 2242.9L556.4 2242.3L558.9 2239.8L561.3 2238.7L563.6 2238.6L565.9 2235.6L568.0 2233.5L570.1 2232.7L572.1 2230.9L574.0 2228.3L575.8 2225.9L577.5 2224.6L579.3 2222.1L581.2 2219.7L583.1 2216.7L585.1 2215.2L587.1 2213.2L589.1 2212.0L591.1 2208.6L593.0 2208.8L595.0 2206.8L597.0 2202.2L599.0 2201.1L601.0 2200.5L603.1 2197.9L605.2 2197.2L607.4 2194.4L609.7 2191.8L612.3 2190.9L614.9 2189.7L617.6 2188.1L620.2 2189.9L622.8 2189.3L625.3 2185.7L627.7 2185.0L630.2 2184.3L632.9 2182.6L635.7 2181.6L638.4 2180.9L641.2 2181.1L644.0 2181.5L646.8 2181.1L649.6 2181.8L652.4 2180.2L655.1 2182.2L657.9 2182.9L660.6 2183.8L663.2 2184.2L665.9 2185.4L668.5 2186.0L671.1 2187.4L673.6 2187.9L676.2 2190.3L678.7 2190.1L681.2 2190.1L683.4 2194.1L685.6 2197.2L687.7 2197.3L689.8 2200.1L692.0 2202.4L694.4 2201.6L696.8 2204.9L699.2 2204.4L701.6 2209.0L703.9 2209.9L706.2 2210.7L708.3 2214.1L710.4 2213.9L712.5 2217.5L714.8 2217.3L717.1 2221.7L719.4 2220.1L721.8 2223.5L724.2 2224.2L726.6 2224.0L729.0 2226.9L731.2 2228.4L733.2 2228.9L734.6 2231.5L735.9 2235.4L737.4 2238.6L739.6 2238.3L742.3 2240.2L745.1 2240.9L747.8 2240.1L750.6 2241.3L753.3 2241.6L756.1 2241.9L758.9 2242.8L761.7 2242.3L764.5 2242.1L767.3 2242.0L770.0 2241.3L772.7 2240.7L775.5 2240.2L778.2 2239.1L780.9 2238.9L783.6 2237.7L786.2 2236.5L788.9 2236.3L791.6 2235.5L794.2 2234.2L796.9 2234.2L799.5 2232.4L802.2 2231.0L804.8 2231.3L807.5 2229.6L810.2 2229.6L812.9 2227.4L815.6 2227.6L818.3 2227.0L820.9 2225.7L823.6 2225.4L826.4 2225.0L829.1 2224.1L831.8 2222.6L834.5 2221.9L837.2 2222.0L839.9 2221.0L842.6 2220.1L845.3 2219.3L848.0 2218.9L850.8 2217.6L853.5 2217.4L856.2 2215.7L858.9 2215.9L861.7 2215.7L864.4 2215.4L867.1 2214.1L869.8 2213.7L872.5 2213.4L875.3 2212.1L878.0 2211.7L880.7 2210.8L883.4 2209.7L886.1 2208.8L888.8 2207.5L891.5 2207.5L894.2 2206.5L896.9 2205.7L899.6 2205.5L902.3 2204.8L905.1 2204.1L907.8 2203.3L910.5 2202.7L913.3 2201.7L916.0 2201.7L918.8 2201.3L921.5 2201.1L924.3 2199.7L927.0 2199.5L929.8 2198.7L932.6 2198.4L935.3 2199.0L938.1 2197.8L940.9 2197.5L943.7 2197.1L946.4 2196.2L949.2 2196.6L952.0 2195.7L954.8 2195.5L957.6 2195.8L960.4 2195.7L963.2 2194.7L966.0 2194.9L968.8 2194.2L971.6 2194.4L974.4 2194.0L977.2 2193.6L979.9 2193.8L982.7 2193.4L985.5 2193.6L988.4 2193.3L991.2 2192.9L994.0 2193.0L996.8 2192.9L999.6 2193.2L1002.4 2193.3L1005.2 2193.9L1008.0 2193.5L1010.8 2193.6L1013.6 2193.8L1016.4 2193.7L1019.2 2194.2L1022.0 2194.3L1024.8 2194.3L1027.6 2194.5L1030.4 2194.5L1033.2 2194.9L1036.0 2194.9L1038.7 2195.1L1041.5 2195.3L1044.3 2196.4L1047.0 2196.9L1049.8 2197.4L1052.5 2197.9L1055.1 2198.8L1057.8 2199.8L1060.4 2201.1L1062.9 2202.0L1065.4 2203.5L1067.9 2205.0L1070.3 2206.1L1072.7 2207.6L1075.1 2209.3L1077.5 2210.9L1079.9 2211.7L1082.4 2213.1L1085.0 2214.3L1087.7 2215.3L1090.4 2216.1L1093.2 2216.3L1096.0 2216.6L1098.8 2216.3L1101.5 2215.8L1104.3 2215.3L1107.0 2215.2L1109.7 2214.1L1112.3 2213.0L1115.0 2212.3L1117.6 2211.0L1120.3 2210.3L1122.9 2208.9L1125.6 2208.4L1128.3 2207.5L1131.1 2207.2L1133.8 2206.8L1136.6 2206.3L1139.4 2206.3L1142.2 2206.2L1145.0 2205.9L1147.8 2205.5L1150.6 2205.2L1153.4 2204.9L1156.2 2204.4L1158.9 2204.5L1161.7 2203.7L1164.4 2202.9L1167.2 2202.6L1169.8 2201.6L1172.5 2201.0L1175.1 2200.0L1177.8 2198.3L1180.4 2197.5L1183.0 2196.9L1185.6 2195.3L1188.2 2195.2L1190.8 2193.7L1193.4 2192.2L1196.1 2192.0L1198.7 2190.7L1201.4 2190.0L1204.1 2188.9L1206.8 2188.3L1209.5 2187.6L1212.2 2186.8L1214.9 2186.1L1217.6 2185.3L1220.3 2185.0L1223.1 2184.3L1225.8 2183.7L1228.6 2183.3L1231.4 2182.5L1234.1 2182.5L1236.9 2182.1L1239.7 2182.1L1242.5 2181.2L1245.3 2181.1L1248.1 2180.6L1250.8 2180.6L1253.6 2179.8L1256.4 2180.0L1259.2 2179.3L1262.0 2179.3L1264.8 2179.6L1267.6 2179.8L1270.4 2180.0L1273.2 2179.7L1276.0 2179.7L1278.8 2180.0L1281.6 2180.3L1284.4 2180.6L1287.2 2180.4L1290.0 2181.3L1292.8 2180.9L1295.6 2181.3L1298.4 2181.4L1301.2 2182.3L1304.0 2182.1L1306.7 2182.5L1309.5 2183.0L1312.3 2183.7L1315.1 2184.2L1317.8 2184.6L1320.6 2184.9L1323.3 2186.2L1326.0 2186.6L1328.8 2186.7L1331.5 2187.6L1334.2 2188.6L1336.9 2188.9L1339.6 2190.2L1342.3 2190.8L1344.9 2191.9L1347.6 2192.2L1350.3 2193.1L1352.9 2194.3L1355.6 2195.0L1358.2 2196.1L1360.9 2197.3L1363.5 2197.6L1366.1 2198.7L1368.7 2199.8L1371.3 2200.8L1373.9 2202.2L1376.5 2203.2L1379.1 2204.1L1381.7 2205.4L1384.2 2206.2L1386.8 2207.8L1389.3 2209.0L1391.8 2210.1L1394.3 2211.4L1396.8 2213.1L1399.2 2213.8L1401.7 2215.7L1404.1 2217.1L1406.5 2218.4L1408.9 2219.7L1411.4 2220.9L1413.8 2222.7L1416.2 2223.3L1418.6 2225.6L1421.0 2226.6L1423.5 2227.9L1425.9 2229.6L1428.4 2230.8L1430.8 2232.3L1433.2 2233.8L1435.6 2234.9L1437.9 2236.8L1440.1 2238.7L1442.2 2240.2L1444.3 2242.0L1446.2 2244.1L1448.2 2246.4L1450.1 2248.3L1451.9 2250.8L1453.7 2252.6L1455.4 2254.9L1457.1 2257.1L1458.8 2259.9L1460.4 2261.7L1462.0 2264.2L1463.5 2266.4L1465.0 2268.8L1466.5 2271.1L1468.1 2273.4L1469.6 2275.8L1471.1 2278.3L1472.7 2280.5L1474.2 2282.8L1475.7 2284.7L1477.3 2287.3L1478.9 2290.1L1480.4 2292.3L1481.9 2294.3L1483.4 2296.6L1484.9 2299.3L1486.3 2301.5L1487.6 2304.0L1489.0 2306.9L1490.3 2309.1L1491.6 2311.5L1492.9 2314.1L1494.3 2316.2L1495.6 2319.1L1497.0 2321.1L1498.3 2323.6L1499.7 2325.8L1501.1 2328.5L1502.4 2331.6L1503.7 2333.7L1504.9 2336.1L1506.1 2338.9L1507.2 2341.1L1508.2 2343.8L1509.2 2346.2L1510.2 2349.2L1511.2 2351.8L1512.1 2354.3L1513.1 2356.9L1514.0 2359.4L1514.9 2362.6L1515.9 2364.9L1516.8 2367.7L1517.7 2370.3L1518.6 2372.6L1519.5 2375.5L1520.5 2378.3L1521.4 2380.6L1522.3 2383.8L1523.2 2386.2L1524.0 2388.7L1524.9 2391.4L1525.7 2394.7L1526.5 2397.0L1527.3 2399.5L1528.1 2402.0L1528.8 2404.9L1529.6 2407.7L1530.3 2410.7L1531.0 2413.1L1531.6 2415.6L1532.3 2418.2L1533.0 2421.4L1533.6 2423.8L1534.3 2426.7L1534.9 2429.4L1535.5 2432.3L1536.2 2435.0L1536.8 2437.6L1537.4 2440.5L1538.0 2442.8L1538.6 2445.9L1539.3 2448.8L1539.9 2451.4L1540.5 2454.5L1541.1 2457.0L1541.8 2459.5L1542.4 2461.9L1543.0 2464.9L1543.7 2468.0L1544.3 2470.3L1545.0 2473.1L1545.7 2475.9L1546.4 2478.8L1547.0 2481.6L1547.7 2484.1L1548.4 2486.7L1549.1 2489.7L1549.8 2492.3L1550.5 2494.7L1551.1 2497.7L1551.8 2500.6L1552.5 2503.1L1553.2 2506.1L1553.8 2508.3L1554.5 2511.1L1555.1 2513.8L1555.8 2516.8L1556.5 2519.2L1557.1 2522.3L1557.8 2524.6L1558.5 2527.4L1559.2 2530.4L1559.9 2533.3L1560.6 2536.1L1561.4 2538.3L1562.2 2541.7L1563.1 2543.6L1563.9 2546.8L1564.9 2548.9L1565.8 2551.9L1566.8 2554.2L1567.8 2556.8L1568.8 2559.7L1569.8 2562.4L1570.9 2565.1L1571.9 2567.4L1572.9 2570.0L1573.9 2572.8L1575.0 2575.3L1576.0 2578.0L1577.0 2580.3L1578.1 2583.6L1579.1 2585.7L1580.1 2588.1L1581.2 2591.2L1582.2 2593.7L1583.3 2596.1L1584.4 2598.5L1585.5 2601.1L1586.6 2603.5L1587.8 2606.2L1589.1 2608.8L1590.4 2611.0L1591.8 2613.7L1593.2 2616.5L1594.7 2619.0L1596.1 2621.3L1597.4 2623.5L1598.7 2625.9L1599.9 2629.0L1601.1 2631.0L1602.2 2633.3L1603.4 2636.4L1604.6 2638.8L1605.7 2641.3L1606.9 2643.6L1608.0 2646.3L1609.2 2648.7L1610.3 2651.5L1611.4 2654.4L1612.6 2656.7L1613.7 2659.3L1614.8 2661.8L1615.8 2664.4L1616.9 2666.7L1617.9 2669.7L1618.8 2671.8L1619.7 2674.8L1620.5 2677.6L1621.2 2680.5L1621.9 2682.9L1622.6 2685.7L1623.3 2688.3L1623.9 2691.3L1624.6 2693.8L1625.2 2696.7L1625.8 2699.2L1626.5 2702.1L1627.1 2705.2L1627.7 2707.4L1628.3 2710.0L1628.9 2713.4L1629.5 2715.8L1630.1 2718.9L1630.8 2721.3L1631.4 2723.9L1632.1 2726.7L1632.9 2729.4L1633.7 2732.2L1634.6 2734.6L1635.5 2737.6L1636.5 2740.0L1637.5 2742.3L1638.6 2745.5L1639.7 2748.0L1640.7 2750.0L1641.8 2752.9L1642.8 2755.5L1643.8 2758.1L1644.7 2760.8L1645.7 2763.1L1646.6 2766.0L1647.5 2768.9L1648.4 2771.7L1649.3 2774.1L1650.2 2776.9L1651.1 2779.3L1651.9 2782.1L1652.7 2784.4L1653.6 2787.4L1654.4 2789.8L1655.2 2792.9L1656.1 2795.6L1656.9 2798.2L1657.8 2800.9L1658.6 2803.4L1659.5 2806.3L1660.4 2808.5L1661.4 2811.5L1662.4 2813.9L1663.6 2816.7L1664.9 2819.0L1666.3 2821.6L1667.9 2823.4L1669.8 2825.8L1671.8 2827.9L1673.9 2829.8L1676.2 2831.4L1678.6 2832.9L1681.1 2834.1L1683.6 2835.0L1686.3 2835.7L1688.9 2836.9L1691.6 2838.0L1694.3 2839.0L1697.0 2839.5L1699.7 2839.9L1702.5 2840.8L1705.2 2840.9L1708.0 2842.0L1710.8 2842.2L1713.5 2842.2L1716.3 2842.9L1719.1 2843.5L1721.8 2844.0L1724.6 2844.4L1727.4 2845.3L1730.1 2845.3L1732.9 2845.6L1735.7 2846.0L1738.4 2846.4L1741.2 2847.1L1744.0 2847.4L1746.8 2848.0L1749.5 2848.0L1752.3 2848.5L1755.1 2848.9L1757.9 2849.2L1760.7 2849.7L1763.4 2850.2L1766.2 2850.1L1769.0 2850.2L1771.8 2850.6L1774.6 2851.1L1777.4 2850.7L1780.2 2851.2L1783.0 2851.4L1785.8 2851.5L1788.6 2851.6L1791.4 2851.7L1794.2 2851.8L1797.0 2852.1L1799.8 2852.7L1802.6 2852.8L1805.4 2853.4L1808.2 2853.2L1811.0 2853.5L1813.7 2853.8L1816.5 2854.0L1819.3 2854.7L1822.1 2854.7L1824.9 2854.9L1827.7 2854.9L1830.5 2855.4L1833.3 2855.7L1836.1 2856.3L1838.9 2856.1L1841.6 2856.5L1844.4 2857.0L1847.2 2857.2L1850.0 2857.7L1852.8 2857.7L1855.6 2858.1L1858.4 2858.3L1861.2 2858.8L1864.0 2859.0L1866.7 2858.9L1869.5 2859.7L1872.3 2859.8L1875.1 2859.9L1877.9 2860.0L1880.7 2860.7L1883.5 2860.8L1886.3 2860.9L1889.1 2861.1L1891.9 2861.4L1894.7 2861.2L1897.5 2861.5L1900.3 2861.7L1903.1 2861.9L1905.9 2862.3L1908.7 2862.3L1911.5 2862.7L1914.3 2862.7L1917.1 2863.1L1919.8 2863.2L1922.6 2863.6L1925.4 2864.1L1928.2 2864.3L1931.0 2864.7L1933.8 2864.6L1936.6 2865.1L1939.4 2865.4L1942.2 2865.7L1944.9 2865.8L1947.7 2866.1L1950.5 2866.5L1953.3 2867.0L1956.1 2867.2L1958.9 2867.3L1961.7 2867.6L1964.5 2867.8L1967.3 2868.2L1970.1 2868.7L1972.8 2868.7L1975.6 2868.9L1978.4 2869.7L1981.2 2869.5L1984.0 2869.9L1986.8 2870.2L1989.6 2870.2L1992.4 2870.6L1995.2 2870.9L1998.0 2870.9L2000.8 2871.2L2003.6 2871.5L2006.4 2871.5L2009.2 2871.8L2012.0 2871.7L2014.8 2872.3L2017.6 2872.9L2020.4 2872.5L2023.1 2873.1L2025.9 2873.1L2028.7 2873.5L2031.5 2873.5L2034.3 2873.4L2037.1 2874.2L2039.9 2874.0L2042.7 2874.1L2045.5 2874.5L2048.3 2874.8L2051.1 2875.2L2053.9 2874.7L2056.7 2875.3L2059.5 2875.2L2062.3 2876.0L2065.1 2875.8L2067.9 2875.9L2070.7 2876.3L2073.5 2877.0L2076.3 2877.1L2079.1 2877.0L2081.9 2877.3L2084.7 2877.2L2087.5 2877.5L2090.3 2877.7L2093.1 2878.0L2095.9 2878.3L2098.6 2878.3L2101.4 2878.3L2104.2 2878.7L2107.0 2878.8L2109.8 2879.1L2112.6 2879.0L2115.4 2879.3L2118.2 2879.4L2121.0 2880.1L2123.8 2880.1L2126.6 2879.7L2129.4 2880.2L2132.2 2880.4L2135.0 2879.9L2137.8 2880.4L2140.6 2880.7L2143.4 2880.7L2146.2 2880.8L2149.0 2881.0L2151.8 2880.9L2154.7 2881.0L2157.5 2881.2L2160.3 2881.1L2163.1 2881.1L2165.9 2881.1L2168.7 2881.1L2171.5 2881.9L2174.3 2881.7L2177.1 2881.5" stroke="#00B0F0"/>
<path d="M257.9 2087.8L260.6 2086.2L263.3 2088.7L266.1 2086.9L268.9 2086.2L271.5 2088.6L273.9 2090.0L276.2 2088.1L278.7 2090.1L281.3 2094.4L284.0 2092.7L286.2 2090.8L288.2 2088.1L290.5 2085.9L293.0 2086.5L294.9 2088.1L297.5 2088.1L299.6 2084.9L301.5 2083.9L303.3 2083.8L305.1 2080.9L306.8 2076.7L308.6 2076.0L310.5 2077.0L312.5 2075.2L314.4 2071.1L316.4 2071.2L318.4 2065.4L320.4 2065.0L322.4 2061.3L324.4 2062.9L326.4 2058.3L328.4 2058.9L330.4 2055.3L332.4 2053.8L334.3 2050.1L336.2 2046.7L338.1 2045.4L339.9 2042.0L341.7 2042.6L343.5 2038.7L345.4 2038.2L347.4 2035.6L349.5 2033.5L351.7 2033.6L354.0 2029.9L356.4 2027.9L358.7 2028.2L361.1 2025.1L363.4 2025.7L365.7 2023.0L368.0 2021.0L370.2 2021.2L372.5 2020.3L374.8 2017.4L377.1 2014.9L379.5 2014.7L381.9 2011.0L384.4 2012.2L386.8 2010.0L389.3 2006.9L391.9 2006.9L394.5 2004.6L397.2 2006.5L399.9 2003.9L402.6 2006.2L405.3 2004.6L408.0 2001.4L410.8 2000.6L413.5 1999.9L416.3 2000.7L419.1 1999.9L421.8 1999.9L424.6 1996.4L427.4 2000.2L430.2 2000.3L433.0 1998.0L435.7 1997.5L438.5 1997.2L441.2 1997.1L443.9 2000.8L446.7 1997.4L449.4 1991.8L452.1 1993.6L454.8 1991.4L457.5 1991.0L460.2 1991.9L462.9 1993.5L465.6 1989.5L468.3 1989.3L471.0 1987.3L473.7 1988.5L476.4 1988.2L479.0 1988.9L481.6 1985.2L484.2 1984.5L486.8 1983.2L489.3 1981.9L491.9 1979.4L494.5 1976.2L497.1 1979.9L499.8 1975.9L502.4 1975.9L505.1 1974.2L507.8 1972.7L510.4 1975.8L513.1 1972.1L515.8 1971.4L518.4 1971.2L521.0 1970.5L523.7 1969.4L526.3 1970.1L529.0 1967.0L531.7 1967.1L534.4 1963.6L537.1 1966.7L539.9 1965.9L542.7 1965.8L545.4 1967.3L548.2 1962.8L551.0 1963.1L553.8 1962.6L556.5 1963.0L559.3 1962.5L562.1 1961.7L564.9 1960.1L567.6 1959.9L570.4 1959.3L573.1 1960.3L575.8 1958.4L578.5 1959.3L581.2 1955.8L583.9 1958.9L586.6 1955.3L589.4 1958.1L592.2 1954.8L595.0 1954.2L597.8 1954.6L600.6 1955.9L603.4 1954.1L606.2 1955.2L609.0 1955.5L611.8 1955.5L614.6 1953.7L617.4 1955.0L620.2 1955.5L623.0 1955.9L625.8 1953.3L628.6 1951.3L631.3 1955.2L634.1 1954.5L636.8 1952.4L639.5 1952.0L642.2 1950.5L644.9 1950.5L647.6 1946.0L650.3 1948.2L653.0 1947.1L655.7 1945.7L658.4 1946.3L661.1 1947.1L663.7 1944.5L666.0 1942.0L668.2 1940.8L670.5 1939.4L673.0 1937.9L675.6 1936.8L678.2 1936.0L680.9 1934.1L683.5 1933.8L686.2 1932.8L688.9 1932.1L691.6 1931.8L694.3 1929.0L697.0 1927.9L699.7 1928.6L702.5 1928.2L705.2 1927.1L708.0 1925.5L710.8 1930.9L713.6 1926.3L716.4 1925.9L719.1 1925.5L721.9 1925.0L724.7 1926.4L727.5 1926.2L730.3 1928.4L732.7 1925.2L733.6 1930.8L734.0 1933.0L734.1 1936.0L734.3 1935.0L734.8 1940.2L736.3 1944.5L738.6 1946.5L741.1 1947.1L743.8 1947.2L746.4 1948.9L749.0 1950.5L751.6 1950.0L754.3 1951.9L756.9 1951.5L759.5 1953.0L762.1 1954.6L764.7 1955.7L767.4 1957.1L769.9 1958.5L772.5 1958.0L775.1 1959.8L777.7 1959.8L780.3 1962.9L782.8 1962.9L785.4 1964.6L787.9 1964.9L790.5 1966.5L793.0 1968.8L795.5 1968.4L797.9 1970.9L800.4 1970.8L802.9 1972.0L805.4 1973.3L808.0 1976.1L810.6 1976.8L813.1 1977.2L815.8 1978.3L818.4 1980.2L821.0 1981.5L823.7 1981.8L826.3 1982.4L828.9 1983.0L831.6 1984.9L834.2 1984.9L836.8 1985.9L839.4 1988.3L842.1 1988.2L844.7 1989.5L847.3 1989.7L849.9 1991.6L852.6 1992.7L855.2 1992.5L857.8 1994.1L860.5 1995.4L863.2 1995.7L865.9 1995.5L868.5 1997.1L871.2 1998.7L873.9 1999.1L876.6 1999.8L879.4 1999.8L882.1 2000.4L884.8 2001.5L887.5 2002.9L890.3 2001.8L893.0 2003.8L895.8 2004.2L898.5 2004.5L901.3 2005.3L904.0 2005.5L906.8 2006.0L909.5 2007.1L912.3 2007.0L915.1 2007.5L917.8 2008.7L920.6 2008.7L923.4 2009.4L926.2 2008.5L929.0 2010.5L931.7 2010.2L934.5 2009.7L937.3 2011.4L940.1 2010.4L942.9 2010.5L945.7 2011.0L948.5 2011.6L951.3 2011.0L954.1 2011.4L956.9 2011.9L959.7 2012.1L962.5 2012.0L965.3 2012.1L968.1 2012.4L970.9 2012.6L973.7 2012.0L976.5 2011.9L979.4 2012.2L982.2 2012.2L985.0 2012.0L987.8 2012.2L990.6 2012.4L993.4 2011.9L996.2 2012.2L999.0 2012.1L1001.8 2011.8L1004.6 2011.3L1007.4 2011.7L1010.2 2011.3L1013.0 2011.4L1015.8 2011.0L1018.6 2010.6L1021.4 2010.6L1024.2 2010.4L1027.0 2010.1L1029.8 2009.8L1032.5 2009.4L1035.3 2009.0L1038.1 2008.8L1040.9 2008.1L1043.6 2007.5L1046.4 2007.5L1049.2 2006.9L1051.9 2006.4L1054.7 2005.9L1057.5 2005.6L1060.3 2004.6L1063.0 2004.3L1065.8 2004.1L1068.6 2003.8L1071.3 2002.7L1074.1 2002.7L1076.9 2002.8L1079.7 2002.0L1082.4 2002.2L1085.2 2001.1L1088.0 2001.1L1090.8 2000.7L1093.6 2000.5L1096.4 2000.1L1099.2 1999.7L1102.0 1999.7L1104.7 1999.2L1107.5 1998.9L1110.3 1998.7L1113.1 1998.4L1115.9 1998.0L1118.7 1997.7L1121.5 1997.7L1124.3 1997.8L1127.1 1997.2L1129.9 1997.4L1132.7 1996.7L1135.5 1996.9L1138.3 1996.6L1141.1 1996.9L1143.9 1996.3L1146.7 1996.3L1149.5 1996.3L1152.3 1996.6L1155.1 1996.8L1157.9 1996.2L1160.8 1996.5L1163.6 1996.4L1166.4 1996.0L1169.2 1996.4L1172.0 1996.5L1174.8 1996.1L1177.6 1996.3L1180.4 1996.3L1183.2 1996.6L1186.0 1996.4L1188.8 1996.0L1191.6 1996.0L1194.4 1996.1L1197.2 1995.7L1200.0 1996.1L1202.8 1995.6L1205.6 1995.5L1208.4 1995.8L1211.2 1995.3L1214.0 1995.2L1216.8 1995.5L1219.7 1995.4L1222.5 1995.3L1225.3 1995.0L1228.1 1995.3L1230.9 1995.5L1233.7 1995.6L1236.5 1995.6L1239.3 1995.9L1242.1 1996.1L1244.8 1996.6L1247.6 1996.7L1250.4 1997.4L1253.2 1997.4L1256.0 1997.3L1258.8 1997.7L1261.6 1997.7L1264.4 1998.2L1267.2 1998.7L1270.0 1998.9L1272.8 1999.3L1275.6 1999.1L1278.4 1999.7L1281.2 2000.1L1283.9 2000.3L1286.7 2000.6L1289.5 2001.0L1292.3 2001.6L1295.0 2002.1L1297.8 2002.3L1300.5 2003.1L1303.3 2003.8L1306.0 2004.1L1308.7 2005.3L1311.5 2005.3L1314.2 2006.4L1316.9 2007.0L1319.6 2008.0L1322.3 2008.5L1325.0 2009.2L1327.6 2010.1L1330.3 2011.0L1333.0 2011.5L1335.7 2012.9L1338.3 2013.1L1341.0 2014.5L1343.6 2015.6L1346.2 2016.7L1348.9 2017.4L1351.5 2018.2L1354.1 2019.6L1356.6 2020.6L1359.2 2021.7L1361.7 2023.1L1364.2 2024.4L1366.6 2026.1L1369.1 2027.2L1371.5 2028.6L1373.8 2030.0L1376.2 2031.7L1378.5 2033.3L1380.8 2035.0L1383.1 2036.6L1385.4 2038.3L1387.7 2039.7L1389.9 2041.4L1392.1 2043.0L1394.3 2044.9L1396.4 2046.5L1398.4 2048.8L1400.3 2050.9L1402.1 2052.6L1403.8 2055.2L1405.5 2056.9L1407.2 2059.8L1408.7 2062.0L1410.3 2064.5L1411.9 2066.7L1413.4 2069.0L1414.9 2071.2L1416.4 2074.1L1417.8 2076.3L1419.3 2078.8L1420.6 2080.6L1422.0 2083.3L1423.3 2085.9L1424.6 2088.2L1425.8 2091.1L1427.0 2093.6L1428.2 2096.0L1429.4 2098.6L1430.5 2100.9L1431.6 2104.2L1432.8 2106.4L1433.9 2108.8L1435.0 2111.2L1436.0 2114.3L1437.1 2116.8L1438.2 2119.6L1439.2 2121.9L1440.3 2124.7L1441.3 2127.6L1442.3 2129.9L1443.2 2132.0L1444.2 2134.9L1445.1 2137.7L1446.1 2140.2L1447.0 2143.1L1447.9 2145.2L1448.9 2147.7L1449.8 2150.9L1450.8 2153.4L1451.7 2156.0L1452.6 2158.5L1453.6 2161.3L1454.5 2163.9L1455.4 2166.7L1456.4 2169.3L1457.3 2171.9L1458.2 2174.9L1459.1 2177.3L1460.0 2180.0L1460.9 2182.6L1461.8 2185.2L1462.7 2188.0L1463.6 2190.7L1464.5 2193.4L1465.3 2196.0L1466.2 2198.8L1467.0 2201.2L1467.8 2204.0L1468.6 2206.5L1469.4 2209.2L1470.2 2212.1L1471.0 2214.7L1471.8 2217.5L1472.6 2220.1L1473.3 2222.8L1474.1 2225.6L1474.8 2228.6L1475.6 2230.7L1476.3 2233.4L1477.0 2236.4L1477.7 2238.6L1478.4 2241.9L1479.0 2244.3L1479.7 2247.1L1480.4 2249.6L1481.0 2252.4L1481.7 2255.1L1482.4 2257.9L1483.1 2260.7L1483.9 2264.1L1484.6 2266.4L1485.4 2268.7L1486.2 2271.6L1487.0 2274.2L1487.9 2277.0L1488.8 2279.7L1489.7 2282.2L1490.6 2285.3L1491.6 2287.8L1492.6 2290.0L1493.6 2292.7L1494.6 2295.4L1495.6 2298.4L1496.7 2300.7L1497.7 2303.0L1498.7 2305.9L1499.7 2308.2L1500.7 2311.3L1501.6 2313.4L1502.6 2316.3L1503.5 2318.7L1504.4 2321.6L1505.3 2324.4L1506.2 2326.8L1507.1 2329.6L1508.1 2332.6L1509.0 2335.0L1510.0 2337.7L1511.0 2339.9L1512.0 2342.7L1513.1 2345.3L1514.1 2348.4L1515.2 2351.1L1516.3 2353.2L1517.4 2355.6L1518.5 2358.3L1519.7 2361.1L1520.8 2363.3L1522.0 2365.9L1523.2 2368.3L1524.4 2371.0L1525.7 2373.4L1527.0 2376.1L1528.2 2378.5L1529.6 2381.0L1530.9 2383.5L1532.2 2386.2L1533.6 2388.3L1535.0 2390.6L1536.5 2393.4L1537.9 2395.4L1539.4 2397.8L1540.9 2400.6L1542.4 2402.3L1544.0 2404.9L1545.6 2407.5L1547.2 2409.6L1548.8 2412.0L1550.5 2414.0L1552.3 2416.4L1554.0 2418.4L1555.9 2420.7L1557.8 2422.9L1559.8 2424.6L1561.8 2426.7L1563.9 2428.7L1566.0 2430.2L1568.2 2431.9L1570.4 2433.4L1572.7 2435.4L1575.0 2437.0L1577.3 2438.4L1579.6 2440.1L1582.0 2442.2L1584.4 2443.0L1586.8 2444.8L1589.2 2446.1L1591.7 2447.3L1594.2 2448.6L1596.7 2450.1L1599.2 2451.2L1601.7 2452.4L1604.2 2453.8L1606.8 2454.6L1609.4 2455.7L1612.0 2456.9L1614.5 2457.8L1617.2 2459.2L1619.8 2460.4L1622.4 2461.2L1625.1 2461.6L1627.7 2462.9L1630.4 2464.0L1633.0 2464.4L1635.7 2465.4L1638.3 2466.7L1641.0 2467.8L1643.6 2468.1L1646.3 2469.2L1648.9 2470.1L1651.6 2471.1L1654.2 2471.8L1656.9 2472.9L1659.5 2473.6L1662.2 2474.8L1664.8 2476.1L1667.5 2476.3L1670.1 2477.6L1672.8 2478.7L1675.4 2479.0L1678.1 2480.3L1680.7 2481.4L1683.4 2482.6L1686.0 2482.8L1688.7 2483.9L1691.4 2484.9L1694.0 2485.6L1696.7 2486.6L1699.3 2487.5L1702.0 2488.3L1704.7 2489.7L1707.4 2490.2L1710.0 2490.9L1712.7 2491.4L1715.4 2493.1L1718.0 2493.5L1720.7 2494.7L1723.3 2495.8L1725.9 2496.9L1728.5 2497.8L1731.0 2498.9L1733.6 2500.0L1736.1 2501.1L1738.7 2502.3L1741.2 2503.6L1743.7 2504.9L1746.2 2506.0L1748.7 2507.9L1751.1 2508.9L1753.6 2510.4L1756.1 2511.1L1758.5 2512.7L1761.0 2514.3L1763.5 2515.8L1765.9 2517.0L1768.4 2518.5L1770.8 2519.6L1773.3 2520.7L1775.7 2523.2L1778.2 2523.6L1780.6 2525.1L1783.1 2526.0L1785.5 2528.0L1787.9 2529.0L1790.3 2530.5L1792.8 2532.1L1795.2 2533.8L1797.5 2534.9L1799.9 2536.5L1802.3 2538.0L1804.7 2539.5L1807.0 2541.1L1809.4 2542.4L1811.7 2544.0L1814.1 2545.8L1816.5 2546.9L1818.8 2549.1L1821.2 2550.2L1823.5 2551.6L1825.9 2553.1L1828.3 2554.5L1830.7 2556.1L1833.1 2557.7L1835.4 2559.2L1837.8 2560.8L1840.2 2561.8L1842.6 2563.5L1845.1 2564.6L1847.5 2566.3L1849.9 2568.1L1852.3 2569.1L1854.7 2570.3L1857.2 2571.9L1859.6 2573.5L1862.1 2574.5L1864.5 2576.3L1867.0 2577.2L1869.4 2578.6L1871.9 2579.4L1874.4 2581.5L1876.9 2582.4L1879.4 2583.8L1881.9 2584.8L1884.4 2586.3L1886.9 2587.7L1889.4 2588.8L1891.9 2590.4L1894.4 2591.6L1897.0 2592.7L1899.5 2593.9L1902.1 2594.8L1904.6 2596.1L1907.2 2597.2L1909.8 2598.3L1912.4 2599.6L1915.0 2600.4L1917.6 2601.5L1920.2 2602.3L1922.8 2603.6L1925.5 2604.4L1928.1 2605.3L1930.8 2606.5L1933.4 2607.2L1936.1 2608.0L1938.8 2609.3L1941.4 2609.5L1944.1 2610.4L1946.8 2611.3L1949.5 2611.9L1952.3 2612.9L1955.0 2613.0L1957.7 2614.1L1960.4 2614.4L1963.2 2615.0L1965.9 2615.7L1968.7 2616.5L1971.4 2617.1L1974.2 2617.7L1976.9 2618.2L1979.7 2618.4L1982.5 2618.7L1985.2 2619.4L1988.0 2619.9L1990.8 2620.2L1993.6 2620.3L1996.4 2620.6L1999.2 2620.6L2002.0 2621.2L2004.8 2621.3L2007.6 2621.3L2010.4 2621.7L2013.2 2621.9L2016.0 2621.9L2018.8 2622.2L2021.6 2621.8L2024.4 2621.8L2027.2 2622.0L2030.0 2621.4L2032.8 2621.6L2035.6 2621.6L2038.4 2621.6L2041.2 2621.1L2044.0 2621.4L2046.8 2621.1L2049.6 2620.8L2052.4 2620.5L2055.2 2620.5L2058.0 2619.8L2060.8 2619.9L2063.6 2619.8L2066.4 2619.8L2069.2 2618.9L2071.9 2618.7L2074.7 2618.2L2077.5 2617.9L2080.3 2617.4L2083.1 2616.8L2085.8 2616.3L2088.6 2616.0L2091.4 2616.1L2094.1 2615.5L2096.9 2614.7L2099.7 2614.3L2102.4 2613.7L2105.2 2613.2L2107.9 2612.9L2110.7 2612.3L2113.4 2611.6L2116.2 2611.1L2118.9 2610.2L2121.7 2609.9L2124.4 2609.2L2127.2 2609.1L2129.9 2608.1L2132.7 2608.1L2135.5 2607.8L2138.2 2606.7L2141.0 2606.6L2143.8 2606.2L2146.6 2605.8L2149.3 2605.3L2152.1 2605.1L2154.9 2604.5L2157.6 2604.1L2160.4 2603.7L2163.2 2603.3L2166.0 2602.8L2168.7 2602.4L2171.5 2602.0L2174.3 2601.5L2177.1 2601.1" stroke="#FF0000"/>
<path d="M257.9 1949.1L260.7 1949.4L263.5 1951.3L266.2 1948.4L269.0 1952.2L271.6 1950.3L274.2 1953.0L276.8 1951.0L279.4 1955.3L282.1 1955.8L284.8 1956.1L287.5 1957.3L290.2 1958.3L293.0 1960.7L295.8 1960.3L298.6 1956.4L301.3 1958.2L304.1 1957.5L306.7 1956.2L309.3 1957.5L311.9 1951.4L314.5 1952.4L317.1 1950.8L319.6 1950.6L322.1 1949.6L324.6 1945.5L327.0 1946.8L329.5 1947.3L331.9 1944.0L334.3 1941.4L336.7 1941.1L339.1 1939.2L341.5 1939.8L343.9 1936.8L346.4 1933.8L348.9 1932.9L351.4 1933.6L354.0 1934.8L356.5 1930.2L359.0 1930.1L361.4 1928.9L363.7 1925.7L366.0 1926.4L368.2 1922.9L370.5 1918.8L372.8 1918.0L375.1 1917.5L377.5 1915.7L379.9 1914.9L382.4 1912.5L384.9 1912.5L387.5 1913.3L390.0 1910.0L392.6 1908.6L395.2 1907.8L397.8 1907.0L400.4 1906.3L403.2 1905.9L405.9 1906.8L408.7 1904.7L411.5 1907.6L414.3 1904.8L417.0 1906.6L419.8 1906.3L422.5 1907.3L425.3 1906.3L428.1 1906.0L430.9 1907.7L433.7 1908.5L436.5 1909.7L439.2 1908.1L442.0 1908.2L444.7 1904.2L447.5 1904.8L450.3 1903.9L453.1 1905.3L455.9 1904.0L458.7 1904.4L461.4 1906.9L464.2 1909.1L467.0 1907.0L469.8 1907.2L472.6 1903.6L475.4 1903.8L478.2 1906.9L480.9 1905.9L483.7 1905.3L486.4 1903.6L489.2 1904.6L492.0 1902.8L494.8 1906.3L497.6 1904.1L500.4 1902.6L503.2 1903.1L506.0 1901.2L508.8 1904.7L511.6 1903.2L514.4 1906.3L517.2 1906.9L520.0 1903.9L522.8 1903.7L525.6 1904.1L528.4 1902.9L531.2 1904.4L534.0 1905.8L536.8 1905.0L539.6 1904.0L542.4 1902.6L545.2 1904.4L547.9 1902.2L550.7 1902.0L553.5 1902.8L556.3 1898.9L559.1 1900.5L561.9 1900.2L564.7 1902.5L567.5 1900.3L570.3 1902.9L573.1 1899.5L575.9 1901.6L578.7 1900.4L581.5 1897.7L584.3 1901.4L587.1 1898.8L589.9 1900.8L592.7 1899.5L595.5 1899.5L598.2 1899.7L601.0 1898.3L603.8 1897.0L606.5 1896.4L609.3 1895.2L612.1 1897.6L614.8 1895.4L617.6 1892.8L620.4 1896.5L623.2 1894.6L625.9 1896.1L628.7 1895.2L631.5 1895.3L634.3 1893.5L637.1 1892.7L639.9 1892.9L642.7 1893.1L645.5 1893.1L648.3 1893.7L651.1 1892.6L653.9 1894.5L656.7 1892.2L659.4 1889.3L662.2 1890.4L664.9 1889.7L667.7 1889.3L670.5 1888.9L673.3 1889.5L676.1 1888.8L678.9 1889.7L681.7 1888.0L684.5 1886.7L687.3 1891.4L690.1 1887.8L692.9 1887.9L695.7 1888.6L698.4 1888.8L701.2 1887.4L703.9 1887.1L706.7 1884.5L709.5 1882.9L712.3 1883.3L715.1 1885.8L717.9 1883.7L720.7 1886.0L723.5 1884.6L726.3 1887.8L729.1 1887.0L731.3 1884.2L732.6 1881.7L733.5 1885.2L734.1 1887.3L734.9 1891.8L736.1 1892.4L737.9 1894.8L740.4 1896.1L743.0 1899.5L745.5 1900.3L748.2 1900.8L750.9 1900.9L753.7 1901.5L756.4 1903.1L759.1 1903.8L761.8 1904.1L764.5 1904.5L767.3 1905.3L770.0 1906.2L772.6 1906.7L775.3 1907.5L778.0 1908.6L780.6 1908.0L783.3 1910.0L785.9 1911.5L788.6 1912.2L791.2 1913.5L793.8 1913.8L796.5 1915.5L799.1 1916.0L801.7 1916.7L804.4 1918.2L807.0 1918.5L809.7 1919.8L812.3 1920.8L815.0 1922.1L817.6 1922.6L820.3 1923.5L822.9 1925.5L825.6 1925.4L828.2 1926.2L830.9 1926.7L833.5 1927.8L836.2 1928.7L838.8 1929.2L841.5 1930.1L844.1 1931.9L846.7 1933.2L849.4 1934.9L852.0 1934.8L854.7 1934.9L857.3 1936.2L860.0 1937.7L862.6 1937.8L865.3 1938.0L868.0 1939.4L870.6 1941.0L873.3 1942.3L876.0 1942.2L878.7 1942.9L881.4 1944.2L884.0 1945.5L886.7 1945.3L889.4 1945.5L892.1 1947.4L894.8 1948.3L897.5 1949.1L900.2 1949.9L902.9 1951.3L905.7 1951.4L908.4 1951.0L911.1 1952.7L913.8 1953.0L916.5 1954.3L919.3 1954.8L922.0 1953.9L924.7 1955.9L927.5 1956.1L930.2 1957.2L932.9 1957.3L935.7 1957.9L938.4 1957.8L941.2 1959.7L943.9 1960.3L946.7 1961.0L949.4 1960.3L952.2 1962.3L954.9 1963.5L957.7 1964.1L960.5 1964.2L963.2 1963.3L966.0 1963.7L968.8 1964.5L971.5 1965.0L974.3 1964.9L977.1 1965.8L979.8 1966.1L982.6 1966.6L985.4 1967.0L988.2 1967.3L991.0 1967.5L993.7 1968.3L996.5 1968.8L999.3 1969.1L1002.0 1969.6L1004.8 1969.9L1007.6 1970.0L1010.4 1970.6L1013.1 1970.9L1015.9 1971.6L1018.7 1971.6L1021.5 1972.7L1024.2 1973.1L1027.0 1973.0L1029.8 1973.6L1032.6 1973.8L1035.4 1974.4L1038.1 1974.7L1040.9 1974.8L1043.7 1975.7L1046.5 1975.7L1049.3 1976.0L1052.1 1976.1L1054.9 1976.9L1057.6 1976.8L1060.4 1977.2L1063.2 1977.2L1066.0 1977.1L1068.8 1977.7L1071.6 1977.5L1074.4 1978.2L1077.2 1978.3L1080.0 1978.4L1082.8 1978.8L1085.6 1978.7L1088.4 1979.3L1091.2 1979.5L1094.0 1979.4L1096.8 1980.1L1099.6 1979.8L1102.4 1980.7L1105.2 1980.7L1108.0 1981.0L1110.8 1981.1L1113.5 1981.6L1116.3 1982.2L1119.1 1982.1L1121.9 1982.4L1124.7 1983.3L1127.5 1983.3L1130.2 1983.9L1133.0 1984.3L1135.8 1984.8L1138.6 1985.0L1141.3 1985.9L1144.1 1986.1L1146.9 1986.3L1149.6 1986.9L1152.4 1987.2L1155.1 1987.5L1157.9 1988.3L1160.7 1989.1L1163.4 1989.9L1166.2 1990.4L1168.9 1990.7L1171.6 1991.1L1174.4 1991.4L1177.1 1992.3L1179.9 1992.8L1182.6 1993.3L1185.4 1993.8L1188.1 1994.9L1190.9 1994.9L1193.6 1995.4L1196.4 1995.8L1199.1 1996.8L1201.9 1997.1L1204.6 1998.0L1207.4 1998.4L1210.1 1999.0L1212.9 1999.1L1215.6 1999.8L1218.4 2000.7L1221.1 2000.8L1223.9 2001.7L1226.7 2001.9L1229.4 2002.7L1232.2 2003.2L1234.9 2003.4L1237.7 2004.2L1240.4 2004.6L1243.2 2005.6L1245.9 2006.3L1248.6 2006.7L1251.3 2007.9L1254.0 2008.4L1256.7 2009.0L1259.3 2010.0L1262.0 2010.9L1264.7 2012.3L1267.4 2012.3L1270.1 2013.3L1272.8 2014.1L1275.5 2014.8L1278.2 2015.8L1280.9 2016.4L1283.5 2017.5L1286.2 2018.4L1288.9 2019.3L1291.6 2020.0L1294.3 2020.8L1296.9 2021.1L1299.6 2022.5L1302.3 2023.4L1304.9 2024.2L1307.6 2024.9L1310.2 2025.9L1312.9 2027.0L1315.5 2028.1L1318.1 2028.9L1320.7 2029.9L1323.3 2031.3L1325.9 2031.8L1328.5 2033.5L1331.1 2034.1L1333.6 2035.3L1336.1 2036.6L1338.6 2038.2L1341.1 2039.1L1343.6 2040.6L1346.1 2042.0L1348.5 2043.3L1351.0 2044.6L1353.4 2045.9L1355.8 2047.3L1358.2 2049.0L1360.6 2050.3L1362.9 2051.7L1365.3 2053.8L1367.5 2055.0L1369.8 2056.8L1372.0 2058.9L1374.2 2060.2L1376.3 2062.1L1378.3 2064.2L1380.4 2065.7L1382.4 2067.9L1384.4 2070.0L1386.3 2071.8L1388.2 2074.1L1390.1 2076.2L1392.0 2078.2L1393.8 2080.6L1395.6 2082.6L1397.4 2084.4L1399.1 2086.6L1400.8 2089.0L1402.4 2091.2L1404.0 2093.9L1405.5 2096.4L1407.1 2098.6L1408.6 2100.9L1410.1 2103.1L1411.6 2105.4L1413.0 2107.9L1414.5 2110.2L1415.9 2112.9L1417.3 2115.1L1418.7 2117.7L1420.0 2120.2L1421.2 2122.4L1422.4 2125.2L1423.6 2127.8L1424.8 2130.0L1425.9 2133.1L1427.1 2135.6L1428.2 2137.8L1429.4 2140.5L1430.5 2143.4L1431.7 2145.5L1432.9 2148.4L1434.1 2150.9L1435.3 2153.1L1436.5 2155.4L1437.7 2158.1L1438.9 2160.6L1440.1 2163.0L1441.3 2165.9L1442.5 2168.2L1443.7 2170.8L1444.9 2173.6L1446.1 2175.7L1447.2 2178.4L1448.4 2181.1L1449.5 2183.4L1450.6 2186.3L1451.8 2188.8L1452.9 2191.5L1454.0 2193.8L1455.2 2196.5L1456.4 2198.8L1457.5 2201.6L1458.7 2204.2L1459.9 2206.8L1461.0 2208.9L1462.2 2211.9L1463.4 2213.9L1464.6 2216.9L1465.8 2219.2L1467.0 2221.8L1468.2 2224.4L1469.4 2227.3L1470.6 2229.6L1471.8 2232.0L1473.0 2234.7L1474.3 2237.1L1475.7 2239.7L1477.0 2242.2L1478.4 2244.3L1479.8 2247.0L1481.2 2249.6L1482.6 2251.7L1483.9 2254.1L1485.3 2256.5L1486.6 2259.0L1487.9 2261.5L1489.2 2264.3L1490.5 2266.4L1491.7 2269.4L1492.9 2271.6L1494.2 2274.4L1495.4 2276.7L1496.6 2279.2L1497.9 2281.8L1499.3 2284.2L1500.6 2286.8L1502.0 2288.9L1503.4 2291.5L1504.8 2293.8L1506.2 2296.2L1507.6 2298.6L1509.0 2301.2L1510.4 2303.6L1511.7 2306.1L1513.1 2308.6L1514.5 2311.1L1515.9 2313.2L1517.3 2315.8L1518.8 2318.1L1520.2 2320.8L1521.7 2323.2L1523.3 2325.5L1524.8 2328.0L1526.4 2329.9L1527.9 2332.4L1529.5 2334.9L1531.1 2337.1L1532.7 2339.1L1534.2 2341.7L1535.8 2343.9L1537.5 2346.5L1539.1 2348.6L1540.8 2351.1L1542.5 2352.8L1544.2 2355.3L1546.0 2357.6L1547.8 2359.5L1549.6 2361.7L1551.5 2363.9L1553.5 2365.7L1555.4 2367.6L1557.4 2370.0L1559.5 2371.6L1561.5 2373.9L1563.6 2375.3L1565.7 2377.4L1567.8 2379.2L1569.9 2380.7L1572.1 2382.9L1574.3 2385.0L1576.5 2386.0L1578.7 2388.1L1580.9 2389.6L1583.2 2391.3L1585.5 2392.5L1587.8 2394.5L1590.2 2396.1L1592.6 2397.3L1595.0 2398.6L1597.4 2400.3L1599.8 2401.6L1602.3 2403.1L1604.7 2404.6L1607.2 2406.1L1609.7 2407.0L1612.2 2408.3L1614.8 2409.7L1617.3 2410.5L1619.8 2412.4L1622.4 2413.1L1625.0 2414.0L1627.5 2415.4L1630.1 2416.5L1632.7 2417.7L1635.3 2418.7L1637.9 2419.7L1640.5 2420.9L1643.1 2421.6L1645.7 2422.7L1648.3 2424.0L1650.9 2425.2L1653.5 2425.9L1656.1 2427.0L1658.7 2428.2L1661.3 2429.0L1663.9 2430.5L1666.5 2431.2L1669.1 2431.8L1671.7 2433.1L1674.3 2434.4L1676.9 2435.2L1679.5 2436.4L1682.1 2437.3L1684.7 2438.7L1687.3 2439.7L1690.0 2440.2L1692.6 2441.4L1695.2 2442.5L1697.8 2443.5L1700.4 2444.4L1703.1 2445.9L1705.7 2446.5L1708.3 2447.5L1711.0 2448.1L1713.6 2449.3L1716.3 2450.2L1718.9 2451.2L1721.6 2452.0L1724.2 2452.8L1726.9 2454.0L1729.5 2455.2L1732.2 2455.1L1734.8 2456.7L1737.5 2457.6L1740.1 2459.1L1742.8 2459.2L1745.4 2460.4L1748.1 2461.1L1750.7 2462.5L1753.4 2463.1L1756.0 2464.1L1758.6 2465.0L1761.3 2466.3L1763.9 2466.6L1766.6 2467.7L1769.2 2468.6L1771.9 2469.6L1774.5 2470.5L1777.2 2471.6L1779.8 2472.3L1782.5 2473.3L1785.1 2474.5L1787.8 2475.2L1790.4 2476.1L1793.1 2477.2L1795.7 2478.4L1798.4 2479.1L1801.0 2479.9L1803.7 2480.5L1806.3 2481.7L1809.0 2482.6L1811.6 2483.7L1814.2 2484.5L1816.9 2485.4L1819.5 2486.2L1822.2 2487.2L1824.8 2488.1L1827.5 2489.3L1830.1 2490.0L1832.8 2491.2L1835.4 2492.3L1838.1 2492.9L1840.7 2493.8L1843.4 2494.2L1846.0 2495.6L1848.7 2496.3L1851.3 2497.4L1854.0 2498.4L1856.6 2499.3L1859.2 2500.4L1861.9 2501.2L1864.5 2502.1L1867.2 2503.1L1869.8 2504.0L1872.5 2504.6L1875.1 2505.8L1877.8 2507.1L1880.4 2507.4L1883.1 2508.8L1885.8 2509.6L1888.4 2510.4L1891.1 2511.4L1893.8 2512.0L1896.5 2512.7L1899.2 2513.6L1901.8 2514.5L1904.5 2514.7L1907.2 2516.0L1909.9 2516.7L1912.6 2517.4L1915.3 2518.5L1918.0 2519.4L1920.7 2519.5L1923.4 2520.7L1926.2 2520.9L1928.9 2522.1L1931.6 2522.7L1934.3 2523.0L1937.0 2524.2L1939.8 2524.8L1942.5 2525.2L1945.2 2525.7L1948.0 2526.3L1950.8 2526.6L1953.5 2527.4L1956.3 2528.2L1959.0 2528.4L1961.8 2529.0L1964.6 2529.3L1967.3 2529.8L1970.1 2530.3L1972.9 2531.0L1975.6 2531.2L1978.4 2531.8L1981.2 2532.4L1983.9 2532.4L1986.7 2533.2L1989.5 2533.3L1992.3 2533.9L1995.0 2534.3L1997.8 2534.3L2000.6 2534.7L2003.4 2535.1L2006.2 2535.8L2009.0 2535.8L2011.7 2536.0L2014.5 2536.2L2017.3 2536.8L2020.1 2537.0L2022.9 2537.2L2025.7 2537.6L2028.5 2537.4L2031.3 2537.2L2034.1 2537.7L2036.9 2537.8L2039.7 2538.2L2042.5 2537.6L2045.4 2537.9L2048.2 2537.8L2051.0 2538.0L2053.8 2538.1L2056.6 2537.7L2059.4 2537.7L2062.2 2537.8L2065.0 2537.8L2067.8 2537.6L2070.6 2537.6L2073.4 2537.8L2076.2 2537.3L2079.0 2537.8L2081.8 2537.7L2084.6 2537.7L2087.4 2537.5L2090.2 2537.2L2093.0 2537.6L2095.8 2536.9L2098.6 2537.0L2101.4 2537.0L2104.2 2536.9L2107.0 2536.8L2109.8 2536.2L2112.6 2536.1L2115.4 2536.4L2118.2 2536.2L2121.0 2535.8L2123.8 2535.5L2126.6 2535.3L2129.4 2535.1L2132.2 2535.0L2135.0 2534.8L2137.8 2534.8L2140.6 2534.9L2143.4 2534.4L2146.2 2534.7L2149.0 2534.1L2151.8 2534.2L2154.7 2533.8L2157.5 2533.9L2160.3 2533.5L2163.1 2533.7L2165.9 2533.7L2168.7 2533.6L2171.5 2533.5L2174.3 2533.2L2177.1 2533.0" stroke="#00B050"/>
<path d="M257.9 1898.6L258.6 1897.0L259.3 1893.7L260.0 1891.7L260.8 1888.6L261.7 1885.1L262.8 1884.1L264.2 1880.0L265.9 1877.2L268.3 1877.9L270.4 1879.3L271.7 1881.4L272.9 1881.9L274.4 1883.4L276.7 1884.2L278.1 1883.0L279.4 1879.1L280.8 1879.5L282.6 1875.8L284.7 1873.9L286.9 1870.4L289.1 1871.2L291.4 1866.7L293.7 1864.9L296.1 1864.7L298.4 1863.4L300.7 1862.4L302.9 1860.0L305.1 1857.1L307.2 1855.6L309.3 1854.3L311.4 1852.6L313.3 1851.6L315.1 1849.9L316.7 1846.2L318.2 1844.9L319.8 1843.1L321.6 1843.7L323.6 1835.7L325.7 1837.3L328.0 1832.9L330.3 1832.3L332.6 1830.8L334.8 1829.4L336.9 1826.4L338.9 1825.9L340.8 1823.5L342.8 1823.9L344.8 1817.9L346.9 1817.4L349.0 1816.6L351.1 1814.7L353.3 1813.3L355.4 1810.5L357.4 1809.9L359.5 1807.3L361.5 1804.5L363.4 1801.0L365.4 1803.6L367.4 1797.1L369.3 1798.9L371.3 1794.5L373.2 1792.8L375.1 1790.7L377.0 1788.9L379.0 1786.5L381.1 1784.2L383.3 1782.5L385.7 1780.0L388.3 1781.4L390.9 1779.8L393.4 1777.2L395.9 1776.6L398.2 1777.6L400.5 1774.2L402.8 1770.6L405.2 1773.6L407.8 1768.9L410.4 1767.1L413.2 1767.0L416.0 1767.1L418.7 1767.5L421.5 1764.6L424.2 1763.2L426.8 1763.4L429.4 1762.6L431.9 1762.0L434.5 1760.7L437.1 1760.6L439.8 1762.0L442.6 1760.8L445.4 1759.3L448.2 1762.0L451.0 1761.1L453.8 1758.1L456.6 1761.1L459.4 1762.8L462.2 1757.7L465.0 1757.5L467.8 1759.8L470.6 1754.3L473.4 1756.0L476.1 1756.7L478.8 1753.3L481.6 1756.0L484.4 1756.3L487.2 1755.0L490.0 1757.6L492.8 1757.7L495.6 1755.6L498.4 1757.7L501.2 1757.1L504.0 1758.6L506.8 1755.6L509.6 1756.5L512.4 1757.1L515.2 1759.8L517.9 1759.3L520.5 1758.7L523.1 1761.0L525.8 1757.7L528.5 1761.1L531.3 1761.1L534.1 1762.6L536.9 1759.0L539.7 1759.8L542.5 1760.8L545.2 1762.6L548.0 1762.9L550.7 1765.2L553.4 1762.6L556.1 1765.5L558.9 1767.4L561.6 1765.1L564.3 1765.1L567.1 1765.1L569.9 1766.4L572.7 1768.6L575.4 1766.3L578.1 1763.9L580.8 1762.4L583.6 1763.2L586.4 1762.0L589.2 1765.6L592.0 1762.9L594.7 1762.2L597.5 1761.6L600.3 1766.4L603.1 1764.1L605.9 1764.8L608.7 1766.9L611.5 1765.1L614.3 1766.5L617.1 1763.6L619.9 1763.2L622.7 1764.8L625.5 1763.6L628.3 1767.2L631.1 1764.9L633.9 1760.6L636.7 1763.9L639.4 1761.9L642.2 1762.8L645.0 1761.3L647.8 1758.9L650.5 1762.0L653.2 1765.0L655.9 1763.7L658.6 1766.9L661.3 1766.0L664.1 1763.3L666.9 1766.5L669.7 1764.0L672.5 1766.4L675.2 1763.4L678.0 1763.5L680.8 1765.6L683.6 1764.4L686.4 1764.9L689.1 1767.3L691.9 1766.9L694.7 1766.2L697.5 1765.8L700.1 1765.3L702.7 1763.5L705.3 1759.9L708.0 1759.7L710.8 1760.4L713.6 1761.1L716.2 1759.9L718.7 1764.2L721.2 1763.3L723.8 1769.0L726.5 1767.0L729.2 1768.0L731.9 1773.0L734.4 1773.3L736.1 1774.4L736.8 1776.3L737.1 1779.9L737.3 1783.9L737.8 1783.0L739.1 1786.7L741.5 1787.3L744.1 1788.5L746.6 1785.9L749.3 1788.7L751.9 1787.7L754.5 1789.2L757.1 1790.3L759.7 1790.7L762.3 1792.5L764.9 1792.9L767.5 1795.5L770.1 1795.6L772.7 1797.1L775.3 1797.8L777.9 1798.6L780.5 1800.3L783.1 1801.1L785.8 1801.5L788.4 1803.9L791.0 1803.2L793.6 1806.0L796.2 1806.8L798.8 1805.8L801.4 1807.3L803.9 1809.5L806.5 1810.1L809.1 1810.2L811.6 1812.4L814.2 1814.9L816.7 1814.6L819.3 1815.6L821.8 1817.3L824.4 1817.3L826.9 1819.4L829.5 1820.6L832.0 1823.5L834.6 1823.0L837.2 1824.2L839.8 1824.9L842.4 1825.5L845.0 1827.3L847.6 1827.4L850.2 1828.4L852.8 1831.0L855.4 1831.0L858.0 1832.1L860.6 1832.7L863.2 1834.5L865.9 1835.4L868.5 1835.8L871.1 1836.7L873.7 1838.5L876.4 1839.0L879.0 1838.8L881.7 1843.3L884.3 1842.7L887.0 1843.4L889.6 1843.6L892.3 1845.0L894.9 1845.5L897.6 1846.4L900.3 1847.8L903.0 1848.3L905.6 1850.1L908.3 1850.3L911.0 1850.1L913.7 1851.7L916.4 1852.4L919.0 1853.0L921.7 1855.2L924.4 1854.0L927.1 1856.6L929.8 1856.2L932.6 1856.9L935.3 1856.6L938.0 1859.3L940.7 1859.1L943.4 1858.5L946.1 1859.6L948.9 1861.6L951.6 1861.2L954.3 1863.0L957.0 1863.3L959.7 1862.9L962.5 1864.6L965.2 1865.0L967.9 1865.6L970.6 1866.7L973.3 1866.9L976.1 1868.2L978.8 1868.8L981.5 1869.3L984.2 1870.0L986.9 1870.5L989.7 1871.2L992.4 1872.0L995.1 1872.6L997.9 1872.8L1000.6 1873.8L1003.4 1874.2L1006.1 1874.2L1008.9 1875.4L1011.6 1875.6L1014.4 1876.2L1017.1 1876.8L1019.9 1877.5L1022.6 1877.5L1025.4 1878.7L1028.1 1878.9L1030.9 1879.6L1033.6 1880.3L1036.4 1880.8L1039.1 1881.4L1041.9 1881.9L1044.6 1882.5L1047.4 1883.4L1050.1 1883.2L1052.9 1884.0L1055.6 1884.7L1058.4 1884.9L1061.2 1885.4L1063.9 1885.7L1066.7 1885.8L1069.5 1886.8L1072.3 1886.9L1075.0 1887.4L1077.8 1887.8L1080.6 1888.0L1083.4 1888.7L1086.1 1888.8L1088.9 1889.4L1091.7 1889.8L1094.5 1890.2L1097.2 1890.7L1100.0 1891.1L1102.8 1891.1L1105.5 1891.8L1108.3 1891.9L1111.1 1892.7L1113.9 1893.0L1116.6 1893.6L1119.4 1894.3L1122.1 1894.8L1124.9 1895.2L1127.7 1895.8L1130.4 1896.3L1133.2 1896.9L1135.9 1897.4L1138.6 1898.0L1141.4 1898.1L1144.1 1899.4L1146.9 1899.7L1149.6 1900.0L1152.4 1900.4L1155.1 1901.0L1157.9 1901.8L1160.6 1902.2L1163.4 1902.6L1166.1 1903.4L1168.9 1904.0L1171.6 1904.6L1174.4 1905.0L1177.1 1905.8L1179.9 1906.1L1182.6 1906.3L1185.4 1907.2L1188.1 1908.0L1190.9 1908.4L1193.6 1908.7L1196.4 1909.3L1199.1 1910.1L1201.9 1910.5L1204.6 1911.0L1207.4 1911.6L1210.1 1912.4L1212.8 1913.2L1215.6 1913.7L1218.3 1914.5L1221.0 1915.0L1223.7 1915.9L1226.4 1916.2L1229.2 1917.2L1231.9 1917.4L1234.7 1918.0L1237.4 1918.5L1240.2 1918.9L1242.9 1919.5L1245.7 1920.2L1248.4 1920.8L1251.1 1921.3L1253.9 1922.0L1256.6 1923.0L1259.3 1923.6L1262.0 1924.6L1264.7 1925.0L1267.4 1925.8L1270.1 1926.5L1272.8 1927.1L1275.5 1928.2L1278.2 1928.8L1280.9 1929.7L1283.5 1930.7L1286.2 1931.5L1288.9 1932.2L1291.5 1933.3L1294.2 1933.9L1296.8 1935.0L1299.4 1935.9L1302.1 1937.0L1304.7 1938.1L1307.3 1938.9L1309.9 1939.5L1312.5 1940.8L1315.1 1942.3L1317.7 1943.2L1320.3 1944.4L1322.8 1945.4L1325.4 1946.9L1327.9 1947.8L1330.5 1948.9L1333.0 1950.3L1335.6 1951.3L1338.1 1952.3L1340.6 1954.1L1343.0 1954.9L1345.5 1956.5L1347.9 1958.3L1350.3 1959.4L1352.6 1960.9L1355.0 1962.4L1357.3 1964.0L1359.5 1965.8L1361.8 1967.3L1364.0 1969.0L1366.2 1970.9L1368.4 1972.9L1370.6 1974.3L1372.8 1975.9L1374.9 1977.6L1377.1 1979.9L1379.2 1981.2L1381.4 1983.4L1383.4 1985.0L1385.4 1987.7L1387.4 1989.4L1389.3 1991.3L1391.2 1993.5L1393.0 1995.2L1394.8 1997.5L1396.6 1999.8L1398.3 2002.0L1400.0 2004.5L1401.7 2006.4L1403.4 2008.6L1405.1 2010.5L1406.7 2013.5L1408.3 2015.5L1410.0 2017.6L1411.6 2019.9L1413.2 2022.4L1414.8 2025.0L1416.4 2027.0L1418.0 2029.0L1419.5 2031.6L1421.0 2034.1L1422.5 2036.5L1423.9 2038.7L1425.4 2041.0L1426.8 2043.4L1428.2 2046.1L1429.6 2048.7L1431.0 2050.9L1432.4 2053.4L1433.8 2055.8L1435.2 2058.1L1436.6 2060.3L1438.0 2063.2L1439.5 2065.1L1440.9 2067.7L1442.3 2070.2L1443.8 2072.8L1445.1 2075.1L1446.5 2077.6L1447.9 2080.0L1449.2 2082.5L1450.5 2084.5L1451.8 2087.5L1453.0 2089.9L1454.3 2092.4L1455.5 2095.3L1456.7 2097.5L1457.9 2100.3L1459.1 2102.4L1460.4 2105.4L1461.6 2107.6L1462.8 2110.1L1464.0 2112.6L1465.3 2114.7L1466.6 2117.6L1467.9 2119.9L1469.3 2122.8L1470.7 2125.0L1472.2 2127.1L1473.8 2129.6L1475.4 2131.8L1477.0 2134.2L1478.7 2136.8L1480.3 2139.0L1481.8 2141.1L1483.2 2143.8L1484.6 2145.6L1485.9 2148.7L1487.0 2151.3L1488.2 2153.6L1489.2 2156.4L1490.3 2159.0L1491.4 2161.4L1492.5 2163.9L1493.6 2166.5L1494.8 2169.1L1496.0 2171.8L1497.3 2174.2L1498.6 2176.5L1500.1 2179.0L1501.6 2181.4L1503.2 2183.6L1504.8 2185.8L1506.4 2188.4L1508.1 2190.8L1509.8 2192.7L1511.4 2195.1L1513.1 2197.2L1514.7 2199.4L1516.3 2201.8L1518.0 2204.2L1519.7 2206.2L1521.5 2208.4L1523.4 2210.5L1525.3 2212.7L1527.3 2214.2L1529.2 2216.7L1531.3 2218.9L1533.3 2220.6L1535.3 2222.2L1537.3 2224.3L1539.3 2226.6L1541.3 2228.3L1543.4 2230.2L1545.5 2232.3L1547.7 2233.7L1549.9 2235.6L1552.1 2237.3L1554.4 2238.9L1556.8 2240.3L1559.1 2241.5L1561.5 2243.4L1563.9 2244.8L1566.4 2246.3L1568.8 2247.7L1571.2 2248.9L1573.7 2250.3L1576.2 2251.9L1578.6 2252.9L1581.1 2254.2L1583.6 2255.2L1586.1 2256.6L1588.6 2258.3L1591.2 2259.2L1593.7 2260.2L1596.2 2261.6L1598.7 2262.9L1601.3 2264.4L1603.8 2265.2L1606.4 2266.6L1608.9 2267.6L1611.5 2268.8L1614.1 2269.9L1616.6 2271.0L1619.2 2272.1L1621.8 2273.0L1624.4 2274.0L1627.0 2275.1L1629.6 2276.2L1632.2 2277.1L1634.8 2278.4L1637.4 2279.4L1640.0 2280.5L1642.6 2281.7L1645.2 2283.1L1647.7 2283.8L1650.3 2284.9L1652.9 2285.9L1655.5 2287.1L1658.0 2288.1L1660.6 2289.4L1663.2 2290.5L1665.8 2291.5L1668.3 2292.1L1670.9 2293.7L1673.5 2294.7L1676.1 2295.7L1678.7 2296.8L1681.3 2297.8L1683.9 2298.7L1686.5 2300.2L1689.1 2301.1L1691.7 2302.1L1694.3 2303.4L1697.0 2303.8L1699.6 2305.2L1702.3 2305.8L1705.0 2306.2L1707.7 2307.3L1710.4 2307.3L1713.1 2308.7L1715.8 2309.4L1718.5 2310.7L1721.2 2311.4L1723.8 2312.0L1726.5 2312.7L1729.1 2314.0L1731.7 2314.8L1734.3 2316.0L1736.9 2317.0L1739.5 2318.0L1742.1 2319.2L1744.7 2320.3L1747.3 2321.3L1749.9 2322.1L1752.6 2323.1L1755.2 2324.2L1757.8 2325.4L1760.4 2326.1L1763.0 2327.5L1765.6 2328.6L1768.2 2329.5L1770.8 2330.2L1773.4 2331.5L1775.9 2332.7L1778.5 2333.9L1781.1 2335.1L1783.7 2335.9L1786.2 2337.5L1788.8 2338.5L1791.3 2339.7L1793.9 2340.5L1796.5 2341.9L1799.0 2343.1L1801.6 2344.1L1804.1 2344.9L1806.7 2346.4L1809.2 2347.6L1811.8 2348.7L1814.3 2349.4L1816.9 2351.3L1819.4 2352.2L1822.0 2353.0L1824.5 2354.6L1827.1 2355.6L1829.6 2357.0L1832.2 2358.2L1834.8 2359.5L1837.3 2360.4L1839.9 2361.4L1842.5 2362.1L1845.1 2363.6L1847.7 2364.5L1850.3 2365.3L1852.9 2366.7L1855.5 2367.6L1858.1 2368.5L1860.7 2369.6L1863.3 2370.9L1865.9 2372.0L1868.5 2373.0L1871.1 2374.0L1873.7 2375.0L1876.3 2376.3L1878.9 2377.2L1881.6 2377.8L1884.2 2379.1L1886.8 2380.2L1889.4 2381.3L1892.0 2381.9L1894.6 2383.1L1897.2 2384.2L1899.8 2385.6L1902.4 2386.6L1905.0 2387.7L1907.6 2388.8L1910.2 2389.6L1912.8 2390.8L1915.4 2391.8L1918.0 2392.7L1920.6 2393.6L1923.2 2394.7L1925.8 2395.9L1928.4 2396.9L1931.0 2398.2L1933.5 2399.3L1936.1 2400.4L1938.7 2401.4L1941.2 2402.6L1943.8 2403.6L1946.3 2404.8L1948.9 2406.0L1951.4 2407.0L1954.0 2408.4L1956.5 2409.4L1959.1 2410.6L1961.7 2411.6L1964.3 2412.6L1966.9 2413.9L1969.5 2414.8L1972.1 2416.0L1974.8 2417.4L1977.4 2417.8L1980.0 2418.9L1982.7 2420.1L1985.3 2420.7L1987.9 2421.3L1990.6 2422.5L1993.2 2423.4L1995.9 2424.4L1998.5 2425.6L2001.2 2425.8L2003.8 2426.9L2006.4 2428.1L2009.1 2429.1L2011.7 2430.2L2014.4 2430.9L2017.0 2431.7L2019.7 2432.3L2022.4 2433.5L2025.0 2434.4L2027.7 2435.1L2030.4 2436.1L2033.1 2437.1L2035.8 2437.8L2038.5 2438.3L2041.1 2439.3L2043.8 2439.8L2046.5 2440.5L2049.2 2441.6L2051.9 2442.2L2054.6 2443.0L2057.3 2444.1L2060.0 2444.6L2062.6 2445.6L2065.3 2446.2L2068.0 2446.8L2070.7 2448.0L2073.4 2449.0L2076.1 2449.7L2078.8 2450.5L2081.4 2451.2L2084.1 2452.3L2086.8 2452.9L2089.5 2453.8L2092.2 2454.8L2094.8 2455.0L2097.5 2456.3L2100.2 2457.3L2102.9 2457.6L2105.6 2458.7L2108.3 2459.8L2111.0 2460.0L2113.7 2461.5L2116.4 2461.6L2119.1 2462.3L2121.9 2462.9L2124.6 2463.4L2127.3 2464.0L2130.1 2464.6L2132.8 2465.2L2135.6 2465.5L2138.3 2466.2L2141.1 2466.5L2143.9 2467.1L2146.6 2467.7L2149.4 2468.2L2152.1 2468.5L2154.9 2469.2L2157.7 2469.3L2160.4 2469.8L2163.2 2470.4L2166.0 2470.5L2168.8 2471.1L2171.5 2471.9L2174.3 2472.0L2177.1 2472.5" stroke="#FF9900"/>
<path d="M257.9 1933.3L260.0 1934.3L262.2 1928.4L264.4 1929.2L266.6 1925.6L268.8 1925.8L271.0 1924.4L273.4 1920.3L276.1 1920.1L278.9 1920.7L281.6 1921.8L284.3 1921.0L287.1 1922.0L289.7 1921.1L291.9 1920.9L293.9 1917.7L295.8 1917.1L298.0 1912.8L300.3 1910.5L302.5 1913.3L304.8 1910.4L307.1 1905.6L309.2 1904.6L311.3 1904.0L313.1 1902.7L314.8 1898.5L316.6 1896.5L318.4 1894.4L320.4 1892.8L322.4 1889.4L324.5 1888.9L326.6 1887.6L328.8 1885.7L330.9 1883.8L333.1 1880.2L335.3 1880.6L337.6 1878.3L339.8 1878.4L342.1 1876.5L344.4 1873.8L346.6 1872.4L348.8 1869.7L351.1 1870.0L353.3 1867.8L355.6 1865.9L357.8 1863.8L360.1 1864.6L362.3 1859.7L364.5 1859.0L366.8 1857.0L369.0 1854.8L371.3 1853.2L373.5 1852.4L375.7 1851.6L377.9 1849.6L380.2 1844.6L382.5 1844.3L384.9 1840.1L387.4 1840.9L389.9 1844.1L392.4 1840.8L395.0 1838.8L397.7 1837.6L400.3 1835.1L403.1 1834.0L405.8 1835.3L408.6 1837.7L411.4 1836.1L414.2 1835.2L417.0 1834.0L419.8 1833.8L422.6 1834.3L425.4 1835.8L428.2 1833.3L431.0 1835.0L433.8 1835.8L436.6 1832.3L439.4 1833.2L442.2 1836.2L444.9 1836.0L447.7 1833.2L450.5 1835.3L453.3 1839.1L456.1 1833.8L458.8 1837.8L461.6 1836.2L464.4 1838.6L467.2 1837.7L469.9 1838.3L472.7 1838.5L475.5 1839.8L478.3 1838.4L481.1 1840.1L483.9 1837.7L486.7 1839.5L489.5 1841.0L492.3 1841.9L495.1 1839.7L497.8 1840.5L500.5 1842.2L503.2 1843.0L505.9 1843.8L508.6 1845.2L511.3 1845.0L514.1 1844.9L516.9 1845.0L519.7 1844.0L522.5 1842.8L525.3 1844.9L528.1 1844.5L530.9 1845.6L533.7 1846.3L536.5 1847.4L539.3 1845.4L542.1 1845.3L544.9 1846.1L547.7 1843.6L550.5 1844.4L553.3 1842.6L556.0 1844.6L558.7 1848.4L561.3 1847.3L563.9 1847.8L566.6 1845.9L569.4 1850.0L572.2 1850.4L574.9 1850.6L577.7 1849.2L580.5 1848.1L583.3 1850.8L586.1 1848.7L588.9 1846.7L591.6 1849.6L594.4 1848.5L597.2 1850.6L599.9 1853.4L602.7 1850.8L605.5 1850.0L608.3 1853.2L611.1 1852.5L613.9 1851.9L616.7 1851.6L619.5 1854.1L622.3 1852.2L625.1 1852.1L627.9 1852.5L630.6 1851.6L633.4 1848.4L636.2 1847.9L639.0 1850.2L641.8 1851.3L644.5 1850.6L647.2 1850.4L649.9 1851.6L652.5 1850.5L655.2 1851.5L658.0 1851.8L660.7 1852.8L663.5 1852.5L666.3 1852.3L669.0 1850.9L671.6 1850.1L674.4 1851.4L677.1 1850.1L679.9 1849.4L682.7 1852.0L685.4 1850.1L688.1 1854.2L690.8 1854.3L693.6 1853.3L696.3 1853.5L699.1 1853.0L701.9 1852.9L704.6 1853.6L707.4 1852.5L710.1 1849.9L712.8 1852.4L715.6 1851.2L718.4 1851.7L721.2 1853.7L723.8 1853.9L726.4 1855.4L729.0 1856.0L731.3 1861.2L733.2 1860.6L734.3 1860.2L734.9 1861.5L735.4 1865.2L736.4 1868.4L738.7 1872.9L741.4 1870.6L744.2 1871.2L746.9 1871.2L749.5 1872.9L752.2 1874.6L754.8 1875.7L757.5 1876.7L760.1 1877.9L762.8 1878.1L765.4 1878.9L768.0 1879.8L770.7 1879.8L773.3 1882.4L776.0 1882.4L778.6 1884.6L781.3 1885.3L783.9 1885.8L786.5 1886.7L789.2 1888.5L791.8 1887.1L794.5 1889.2L797.1 1889.7L799.8 1890.2L802.5 1891.0L805.1 1892.8L807.8 1893.3L810.5 1895.0L813.2 1896.0L815.8 1896.7L818.5 1896.9L821.2 1897.1L823.9 1899.0L826.6 1900.2L829.3 1899.6L832.0 1901.0L834.7 1901.1L837.4 1901.9L840.0 1904.7L842.7 1904.2L845.4 1904.0L848.1 1907.3L850.8 1907.2L853.5 1909.1L856.1 1908.4L858.8 1908.4L861.5 1909.9L864.2 1911.1L866.9 1911.0L869.6 1911.5L872.3 1912.6L875.0 1913.3L877.8 1914.0L880.5 1915.3L883.2 1916.2L885.9 1916.2L888.7 1917.9L891.4 1917.5L894.1 1918.2L896.8 1919.5L899.6 1920.3L902.3 1921.1L905.1 1921.1L907.8 1921.0L910.6 1921.5L913.3 1923.1L916.1 1922.8L918.8 1924.2L921.6 1924.0L924.3 1925.1L927.1 1924.3L929.8 1926.0L932.6 1926.3L935.3 1926.6L938.1 1926.1L940.8 1926.9L943.6 1928.3L946.3 1927.9L949.1 1930.5L951.8 1930.1L954.6 1930.8L957.3 1930.9L960.1 1932.2L962.9 1932.0L965.6 1932.8L968.4 1933.0L971.2 1933.6L973.9 1933.6L976.7 1934.1L979.5 1934.5L982.2 1935.1L985.0 1935.2L987.8 1935.9L990.6 1935.9L993.4 1936.2L996.1 1936.6L998.9 1937.1L1001.7 1937.3L1004.5 1938.0L1007.3 1938.1L1010.1 1938.4L1012.8 1939.3L1015.6 1939.0L1018.4 1939.4L1021.2 1940.4L1024.0 1940.4L1026.8 1940.7L1029.5 1941.3L1032.3 1941.5L1035.1 1941.6L1037.9 1942.0L1040.7 1942.2L1043.4 1942.8L1046.2 1943.3L1049.0 1943.5L1051.8 1943.8L1054.6 1944.4L1057.4 1944.7L1060.2 1944.6L1063.0 1944.9L1065.8 1945.3L1068.6 1945.4L1071.4 1945.2L1074.1 1946.0L1076.9 1945.8L1079.7 1946.0L1082.5 1946.5L1085.3 1946.3L1088.1 1946.7L1090.9 1946.9L1093.7 1947.2L1096.5 1947.1L1099.3 1947.0L1102.1 1947.6L1104.9 1947.8L1107.7 1948.4L1110.5 1948.4L1113.3 1948.6L1116.1 1948.6L1118.9 1949.1L1121.7 1949.3L1124.5 1949.6L1127.3 1950.0L1130.1 1950.0L1132.8 1950.4L1135.6 1951.1L1138.4 1950.9L1141.2 1951.0L1144.0 1951.3L1146.8 1951.7L1149.6 1952.2L1152.4 1952.3L1155.1 1952.7L1157.9 1953.4L1160.7 1953.6L1163.5 1954.7L1166.2 1954.5L1169.0 1955.0L1171.8 1955.5L1174.5 1955.7L1177.3 1956.0L1180.1 1956.6L1182.9 1957.2L1185.6 1957.3L1188.4 1958.0L1191.2 1958.4L1194.0 1958.8L1196.7 1959.3L1199.5 1959.5L1202.3 1960.1L1205.0 1960.1L1207.8 1961.1L1210.6 1961.2L1213.4 1961.9L1216.1 1962.1L1218.9 1962.8L1221.7 1962.8L1224.5 1963.4L1227.3 1963.6L1230.1 1963.9L1232.8 1963.9L1235.6 1964.4L1238.4 1964.6L1241.2 1965.2L1244.0 1965.6L1246.8 1965.7L1249.5 1966.7L1252.3 1967.0L1255.0 1967.5L1257.7 1968.4L1260.5 1968.6L1263.2 1969.4L1265.9 1970.4L1268.6 1970.8L1271.4 1971.4L1274.1 1971.9L1276.9 1973.0L1279.6 1973.3L1282.3 1973.3L1285.1 1974.2L1287.8 1974.9L1290.5 1975.7L1293.3 1976.2L1296.0 1976.6L1298.7 1977.4L1301.5 1978.2L1304.2 1979.2L1306.9 1979.5L1309.7 1980.0L1312.4 1980.8L1315.1 1981.3L1317.8 1982.3L1320.5 1983.0L1323.2 1984.1L1325.9 1984.7L1328.6 1985.0L1331.3 1986.2L1333.9 1986.7L1336.6 1987.9L1339.2 1988.8L1341.9 1989.6L1344.5 1990.6L1347.2 1991.8L1349.8 1992.7L1352.4 1993.9L1354.9 1994.8L1357.5 1996.3L1360.0 1997.0L1362.6 1998.2L1365.1 1999.9L1367.5 2000.9L1370.0 2002.0L1372.4 2003.4L1374.8 2004.9L1377.2 2006.4L1379.5 2008.0L1381.8 2010.0L1384.1 2011.7L1386.4 2012.8L1388.6 2014.8L1390.8 2016.5L1392.9 2018.5L1395.0 2020.3L1397.1 2021.9L1399.1 2024.0L1401.1 2026.2L1403.0 2028.5L1404.9 2030.3L1406.7 2032.2L1408.6 2034.4L1410.4 2036.5L1412.3 2038.9L1414.1 2041.0L1415.9 2042.8L1417.7 2044.8L1419.5 2047.0L1421.2 2049.8L1422.9 2051.4L1424.5 2054.3L1426.1 2056.4L1427.7 2058.4L1429.2 2061.1L1430.8 2063.5L1432.4 2065.4L1433.9 2067.7L1435.5 2070.1L1437.0 2072.5L1438.5 2075.0L1440.1 2076.9L1441.6 2079.5L1443.1 2082.3L1444.6 2084.2L1446.0 2086.9L1447.5 2089.2L1448.9 2091.4L1450.4 2094.1L1451.8 2096.4L1453.4 2098.9L1454.9 2100.7L1456.5 2103.4L1458.1 2105.7L1459.7 2108.3L1461.3 2110.3L1462.8 2112.5L1464.4 2115.1L1466.0 2117.4L1467.5 2119.5L1469.1 2122.2L1470.6 2124.5L1472.1 2126.5L1473.7 2128.8L1475.3 2131.6L1476.9 2133.7L1478.5 2135.9L1480.2 2137.9L1481.9 2141.0L1483.6 2142.7L1485.3 2145.2L1486.9 2147.3L1488.6 2149.5L1490.2 2151.9L1491.8 2154.0L1493.5 2156.2L1495.1 2158.7L1496.7 2160.7L1498.4 2163.1L1500.1 2165.6L1501.9 2167.3L1503.7 2169.6L1505.5 2171.6L1507.4 2173.9L1509.3 2176.0L1511.2 2178.0L1513.1 2180.0L1515.0 2181.8L1517.0 2183.9L1518.9 2186.0L1520.9 2188.1L1522.9 2190.4L1525.0 2191.5L1527.0 2193.6L1529.1 2195.5L1531.3 2197.4L1533.4 2199.4L1535.6 2200.7L1537.8 2202.6L1540.0 2204.5L1542.3 2206.3L1544.5 2208.1L1546.8 2209.2L1549.1 2210.7L1551.5 2212.9L1553.8 2214.4L1556.2 2215.6L1558.6 2217.0L1561.1 2218.4L1563.6 2219.8L1566.1 2220.8L1568.7 2222.0L1571.2 2223.1L1573.8 2224.3L1576.4 2224.8L1579.0 2226.3L1581.7 2227.3L1584.3 2228.0L1586.9 2229.0L1589.5 2230.1L1592.2 2231.1L1594.8 2232.1L1597.4 2233.1L1600.0 2234.3L1602.7 2235.0L1605.3 2235.9L1607.9 2237.2L1610.5 2237.7L1613.1 2239.0L1615.8 2239.7L1618.4 2241.1L1621.0 2242.2L1623.7 2242.7L1626.3 2243.4L1629.0 2245.1L1631.6 2246.0L1634.3 2246.2L1636.9 2247.9L1639.6 2248.6L1642.3 2249.0L1644.9 2250.0L1647.6 2251.2L1650.2 2251.7L1652.9 2252.9L1655.6 2253.4L1658.2 2254.6L1660.8 2255.8L1663.5 2256.6L1666.1 2257.3L1668.8 2258.8L1671.4 2259.5L1674.0 2260.2L1676.6 2261.6L1679.3 2262.4L1681.9 2263.7L1684.5 2264.5L1687.1 2265.3L1689.7 2266.5L1692.3 2267.3L1694.9 2268.5L1697.5 2269.4L1700.1 2270.5L1702.8 2271.7L1705.4 2272.3L1708.1 2272.8L1710.7 2274.2L1713.4 2275.2L1716.1 2275.9L1718.7 2277.2L1721.3 2277.6L1724.0 2279.3L1726.6 2280.0L1729.2 2281.0L1731.8 2282.0L1734.4 2283.1L1737.0 2284.5L1739.6 2285.3L1742.2 2286.3L1744.8 2287.0L1747.4 2288.3L1750.0 2289.9L1752.6 2290.4L1755.2 2291.5L1757.8 2292.5L1760.5 2293.6L1763.1 2294.5L1765.7 2295.7L1768.3 2296.5L1770.9 2297.6L1773.5 2298.5L1776.1 2299.7L1778.7 2300.8L1781.3 2301.4L1783.9 2302.6L1786.5 2303.7L1789.1 2304.8L1791.7 2306.0L1794.3 2307.0L1796.9 2307.9L1799.5 2309.0L1802.1 2310.0L1804.7 2311.2L1807.3 2312.1L1809.9 2313.6L1812.4 2314.2L1815.0 2315.1L1817.6 2316.3L1820.1 2317.5L1822.7 2318.9L1825.2 2320.1L1827.8 2320.8L1830.3 2322.5L1832.9 2323.6L1835.5 2324.8L1838.0 2325.9L1840.6 2327.2L1843.2 2328.1L1845.8 2329.1L1848.4 2330.2L1851.0 2331.0L1853.6 2332.2L1856.2 2333.1L1858.8 2334.6L1861.4 2335.4L1864.0 2336.5L1866.6 2337.7L1869.2 2338.8L1871.8 2339.5L1874.4 2340.7L1877.1 2341.7L1879.7 2342.7L1882.3 2343.7L1884.9 2344.4L1887.5 2345.6L1890.1 2346.8L1892.7 2347.9L1895.3 2348.6L1897.9 2350.0L1900.5 2351.2L1903.0 2352.0L1905.6 2353.3L1908.2 2354.3L1910.8 2355.4L1913.3 2356.7L1915.9 2357.8L1918.4 2358.9L1921.0 2360.1L1923.5 2360.9L1926.1 2362.1L1928.7 2363.5L1931.2 2364.5L1933.8 2365.7L1936.3 2367.2L1938.9 2367.8L1941.5 2369.3L1944.0 2370.1L1946.6 2371.4L1949.2 2372.6L1951.7 2373.7L1954.3 2374.9L1956.9 2376.1L1959.4 2376.9L1962.0 2378.4L1964.6 2379.2L1967.1 2380.5L1969.7 2382.0L1972.2 2382.6L1974.7 2384.0L1977.3 2385.2L1979.8 2386.6L1982.3 2387.5L1984.8 2389.0L1987.3 2390.3L1989.8 2391.7L1992.2 2393.5L1994.7 2394.5L1997.2 2395.2L1999.7 2397.0L2002.2 2398.3L2004.7 2399.7L2007.2 2400.8L2009.7 2401.7L2012.3 2402.8L2014.8 2404.0L2017.4 2405.5L2020.0 2406.2L2022.5 2407.9L2025.1 2409.1L2027.6 2410.4L2030.2 2410.9L2032.7 2412.3L2035.3 2413.3L2037.8 2414.6L2040.3 2415.9L2042.8 2417.3L2045.4 2418.3L2047.9 2419.5L2050.4 2420.8L2052.9 2422.2L2055.4 2423.2L2057.9 2424.9L2060.4 2425.7L2062.9 2426.8L2065.4 2428.7L2067.9 2429.5L2070.4 2431.1L2072.8 2432.4L2075.3 2433.7L2077.7 2434.7L2080.2 2436.5L2082.7 2437.6L2085.1 2439.0L2087.6 2440.8L2090.0 2442.1L2092.5 2443.1L2094.9 2444.6L2097.4 2445.5L2099.9 2447.3L2102.3 2448.5L2104.8 2450.0L2107.3 2451.3L2109.8 2452.7L2112.3 2453.8L2114.8 2455.3L2117.3 2456.4L2119.8 2457.6L2122.3 2458.9L2124.8 2460.0L2127.4 2461.2L2130.0 2462.5L2132.5 2463.0L2135.1 2464.4L2137.7 2465.8L2140.3 2466.4L2142.9 2467.7L2145.5 2468.6L2148.2 2469.3L2150.8 2470.8L2153.4 2471.6L2156.0 2472.5L2158.7 2473.8L2161.3 2474.6L2163.9 2475.6L2166.5 2476.8L2169.2 2477.6L2171.8 2478.7L2174.4 2479.6L2177.1 2480.4" stroke="#7030A0"/>
</g>
<g fill="none" stroke-width="9.6" stroke-linecap="round">
<path d="M1663.0 338.6H1720.8" stroke="#00B0F0"/>
<path d="M1663.0 432.5H1720.8" stroke="#FF0000"/>
<path d="M1663.0 525.2H1720.8" stroke="#00B050"/>
<path d="M1663.0 619.5H1720.8" stroke="#FF9900"/>
<path d="M1663.0 713.1H1720.8" stroke="#7030A0"/>
<path d="M1605.5 1805.7H1665.5" stroke="#00B0F0"/>
<path d="M1605.5 1900.0H1665.5" stroke="#FF0000"/>
<path d="M1605.5 1995.3H1665.5" stroke="#00B050"/>
<path d="M1605.5 2089.2H1665.5" stroke="#FF9900"/>
<path d="M1605.5 2183.0H1665.5" stroke="#7030A0"/>
</g>
<g fill="#000">
<text transform="translate(127.78 61.40) scale(0.5634 0.5634)" font-family="'Liberation Sans', sans-serif" font-weight="bold" font-size="100">1.8</text>
<text transform="translate(127.78 228.99) scale(0.5634 0.5634)" font-family="'Liberation Sans', sans-serif" font-weight="bold" font-size="100">1.6</text>
<text transform="translate(123.82 396.57) scale(0.5797 0.5797)" font-family="'Liberation Sans', sans-serif" font-weight="bold" font-size="100">1.4</text>
<text transform="translate(127.26 564.16) scale(0.5714 0.5714)" font-family="'Liberation Sans', sans-serif" font-weight="bold" font-size="100">1.2</text>
<text transform="translate(128.34 731.74) scale(0.5634 0.5634)" font-family="'Liberation Sans', sans-serif" font-weight="bold" font-size="100">1.0</text>
<text transform="translate(127.78 899.33) scale(0.5634 0.5634)" font-family="'Liberation Sans', sans-serif" font-weight="bold" font-size="100">0.8</text>
<text transform="translate(127.78 1066.91) scale(0.5634 0.5634)" font-family="'Liberation Sans', sans-serif" font-weight="bold" font-size="100">0.6</text>
<text transform="translate(126.09 1234.50) scale(0.5634 0.5634)" font-family="'Liberation Sans', sans-serif" font-weight="bold" font-size="100">0.4</text>
<text transform="translate(120.62 1736.70) scale(0.5704 0.5704)" font-family="'Liberation Sans', sans-serif" font-weight="bold" font-size="100">1.8</text>
<text transform="translate(120.62 1883.83) scale(0.5704 0.5704)" font-family="'Liberation Sans', sans-serif" font-weight="bold" font-size="100">1.6</text>
<text transform="translate(116.61 2030.95) scale(0.5870 0.5870)" font-family="'Liberation Sans', sans-serif" font-weight="bold" font-size="100">1.4</text>
<text transform="translate(120.09 2178.07) scale(0.5786 0.5786)" font-family="'Liberation Sans', sans-serif" font-weight="bold" font-size="100">1.2</text>
<text transform="translate(121.19 2325.20) scale(0.5704 0.5704)" font-family="'Liberation Sans', sans-serif" font-weight="bold" font-size="100">1.0</text>
<text transform="translate(120.62 2472.32) scale(0.5704 0.5704)" font-family="'Liberation Sans', sans-serif" font-weight="bold" font-size="100">0.8</text>
<text transform="translate(120.62 2619.45) scale(0.5704 0.5704)" font-family="'Liberation Sans', sans-serif" font-weight="bold" font-size="100">0.6</text>
<text transform="translate(118.91 2766.57) scale(0.5704 0.5704)" font-family="'Liberation Sans', sans-serif" font-weight="bold" font-size="100">0.4</text>
<text transform="translate(121.19 2913.70) scale(0.5704 0.5704)" font-family="'Liberation Sans', sans-serif" font-weight="bold" font-size="100">0.2</text>
<text transform="translate(216.57 1316.00) scale(0.5775 0.5775)" font-family="'Liberation Sans', sans-serif" font-weight="bold" font-size="100">200</text>
<text transform="translate(210.17 2995.00) scale(0.5775 0.5775)" font-family="'Liberation Sans', sans-serif" font-weight="bold" font-size="100">200</text>
<text transform="translate(535.44 1316.00) scale(0.5775 0.5775)" font-family="'Liberation Sans', sans-serif" font-weight="bold" font-size="100">300</text>
<text transform="translate(530.19 2995.00) scale(0.5775 0.5775)" font-family="'Liberation Sans', sans-serif" font-weight="bold" font-size="100">300</text>
<text transform="translate(854.31 1316.00) scale(0.5775 0.5775)" font-family="'Liberation Sans', sans-serif" font-weight="bold" font-size="100">400</text>
<text transform="translate(850.21 2995.00) scale(0.5775 0.5775)" font-family="'Liberation Sans', sans-serif" font-weight="bold" font-size="100">400</text>
<text transform="translate(1172.32 1316.00) scale(0.5775 0.5775)" font-family="'Liberation Sans', sans-serif" font-weight="bold" font-size="100">500</text>
<text transform="translate(1169.37 2995.00) scale(0.5775 0.5775)" font-family="'Liberation Sans', sans-serif" font-weight="bold" font-size="100">500</text>
<text transform="translate(1490.90 1316.00) scale(0.5775 0.5775)" font-family="'Liberation Sans', sans-serif" font-weight="bold" font-size="100">600</text>
<text transform="translate(1489.10 2995.00) scale(0.5775 0.5775)" font-family="'Liberation Sans', sans-serif" font-weight="bold" font-size="100">600</text>
<text transform="translate(1809.20 1316.00) scale(0.5775 0.5775)" font-family="'Liberation Sans', sans-serif" font-weight="bold" font-size="100">700</text>
<text transform="translate(1808.55 2995.00) scale(0.5775 0.5775)" font-family="'Liberation Sans', sans-serif" font-weight="bold" font-size="100">700</text>
<text transform="translate(2128.07 1316.00) scale(0.5775 0.5775)" font-family="'Liberation Sans', sans-serif" font-weight="bold" font-size="100">800</text>
<text transform="translate(2128.57 2995.00) scale(0.5775 0.5775)" font-family="'Liberation Sans', sans-serif" font-weight="bold" font-size="100">800</text>
<text transform="translate(955.90 1411.50) scale(0.6624 0.6855)" font-family="'Liberation Sans', sans-serif" font-weight="bold" font-size="100">Wavelength (nm)</text>
<text transform="translate(952.40 3091.20) scale(0.6632 0.6855)" font-family="'Liberation Sans', sans-serif" font-weight="bold" font-size="100">Wavelength (nm)</text>
<text transform="translate(80.00 939.29) rotate(-90) scale(0.6468 0.6884)" font-family="'Liberation Sans', sans-serif" font-weight="bold" font-size="100">Absorbance (a.u.)</text>
<text transform="translate(73.50 2591.59) rotate(-90) scale(0.6459 0.6884)" font-family="'Liberation Sans', sans-serif" font-weight="bold" font-size="100">Absorbance (a.u.)</text>
<text transform="translate(1079.69 1565.49) scale(0.8269 0.8622)" font-family="'Liberation Serif', serif" font-weight="normal" font-size="100">(<tspan font-weight="bold">a</tspan>)</text>
<text transform="translate(1074.25 3245.30) scale(0.8614 0.8667)" font-family="'Liberation Serif', serif" font-weight="normal" font-size="100">(<tspan font-weight="bold">b</tspan>)</text>
<text transform="translate(1747.57 364.60) scale(0.6781 0.7870)" font-family="'Liberation Sans', sans-serif" font-weight="bold" font-size="100">S-Cu<tspan font-size="70" dy="33">2</tspan><tspan dy="-33">O</tspan></text>
<text transform="translate(1747.53 458.50) scale(0.6894 0.7870)" font-family="'Liberation Sans', sans-serif" font-weight="bold" font-size="100">S-Fe<tspan font-size="70" dy="33">2</tspan><tspan dy="-33">O</tspan><tspan font-size="70" dy="33">3</tspan></text>
<text transform="translate(1747.02 551.20) scale(0.7444 0.7870)" font-family="'Liberation Sans', sans-serif" font-weight="bold" font-size="100">CP-Cu/Fe-1</text>
<text transform="translate(1747.01 645.50) scale(0.7463 0.7870)" font-family="'Liberation Sans', sans-serif" font-weight="bold" font-size="100">CP-Cu/Fe-2</text>
<text transform="translate(1747.03 739.10) scale(0.7436 0.7870)" font-family="'Liberation Sans', sans-serif" font-weight="bold" font-size="100">CP-Cu/Fe-3</text>
<text transform="translate(1690.67 1830.60) scale(0.6828 0.7870)" font-family="'Liberation Sans', sans-serif" font-weight="bold" font-size="100">C-Cu<tspan font-size="70" dy="33">2</tspan><tspan dy="-33">O</tspan></text>
<text transform="translate(1690.62 1924.90) scale(0.6962 0.7870)" font-family="'Liberation Sans', sans-serif" font-weight="bold" font-size="100">C-Fe<tspan font-size="70" dy="33">2</tspan><tspan dy="-33">O</tspan><tspan font-size="70" dy="33">3</tspan></text>
<text transform="translate(1691.75 2020.20) scale(0.7743 0.7870)" font-family="'Liberation Sans', sans-serif" font-weight="bold" font-size="100">HEM-Cu/Fe-1</text>
<text transform="translate(1691.74 2114.10) scale(0.7771 0.7870)" font-family="'Liberation Sans', sans-serif" font-weight="bold" font-size="100">HEM-Cu/Fe-2</text>
<text transform="translate(1691.74 2207.90) scale(0.7759 0.7870)" font-family="'Liberation Sans', sans-serif" font-weight="bold" font-size="100">HEM-Cu/Fe-3</text>
</g>
</svg>
</body></html>
